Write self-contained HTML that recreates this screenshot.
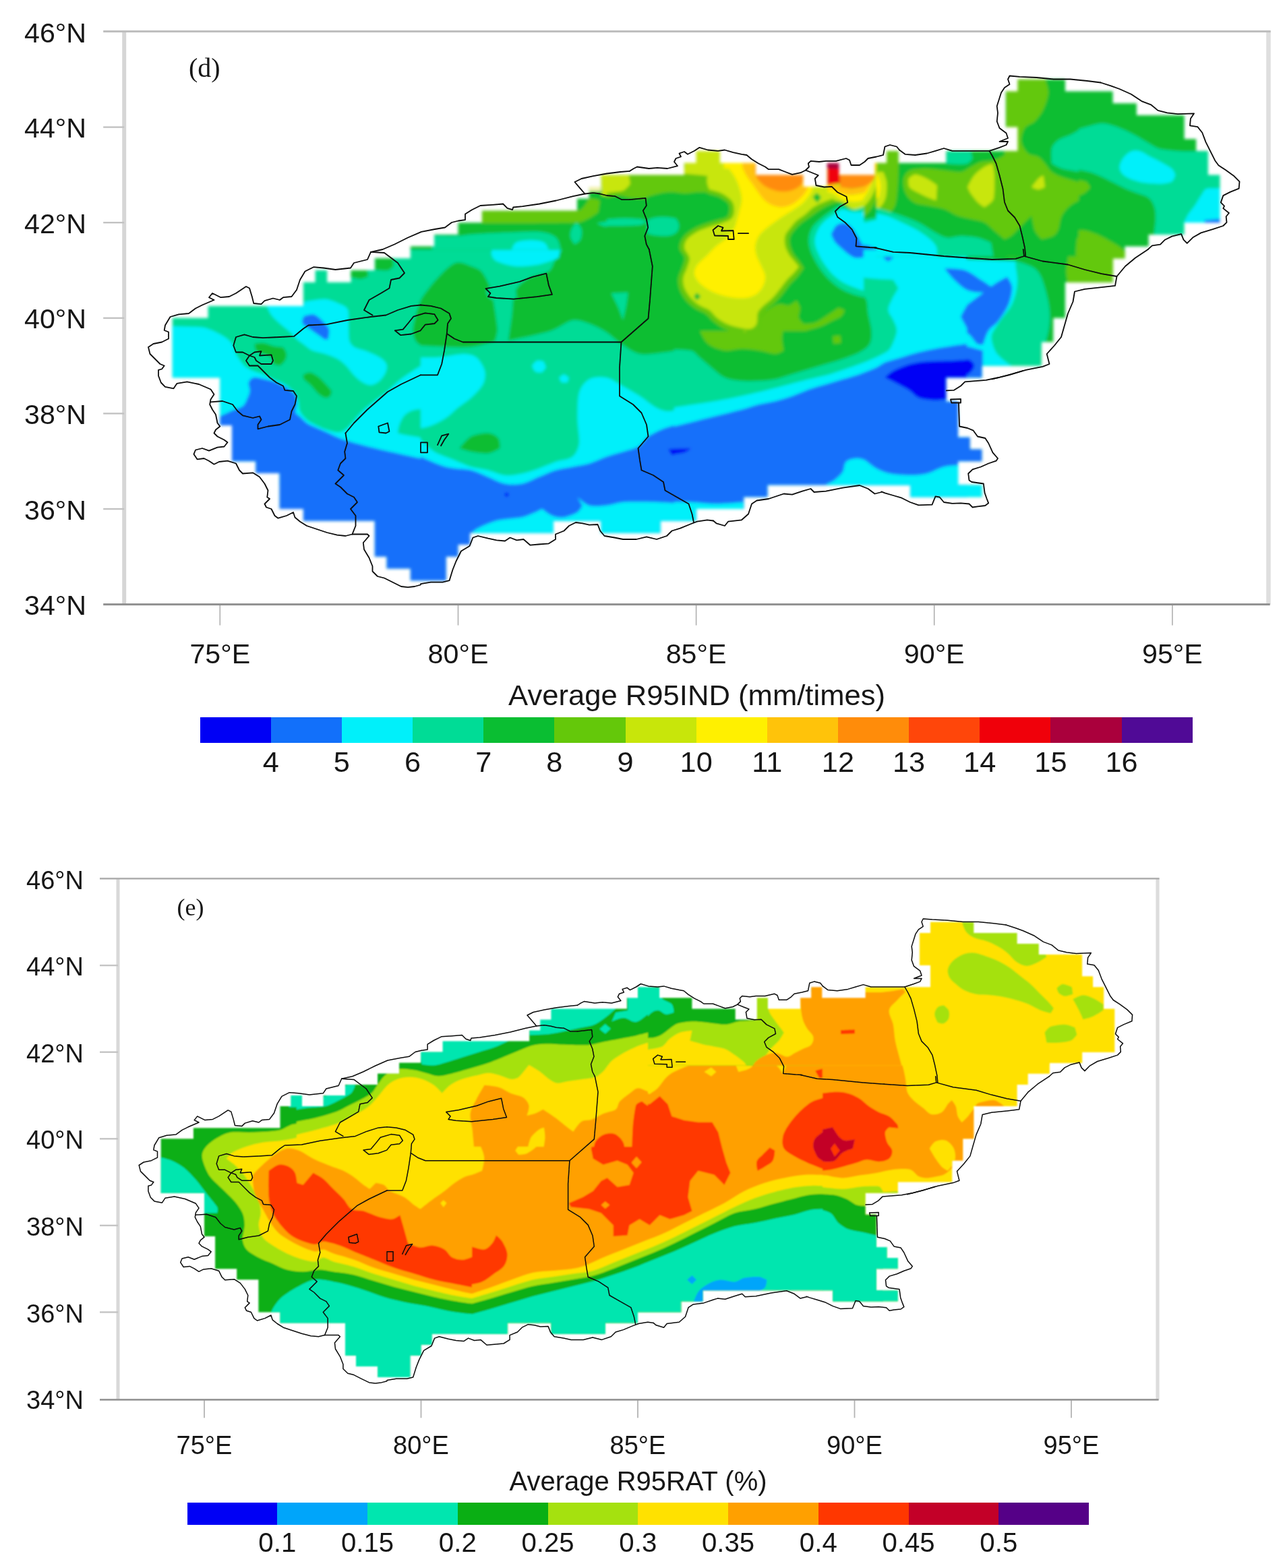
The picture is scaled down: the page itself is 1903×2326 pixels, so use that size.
<!DOCTYPE html>
<html lang="en"><head><meta charset="utf-8">
<title>Average R95IND and R95RAT</title>
<style>html,body{margin:0;padding:0;background:#fff}svg{display:block}</style>
</head><body>
<svg width="1903" height="2326" viewBox="0 0 1903 2326" font-family="'Liberation Sans', sans-serif">
<rect width="1903" height="2326" fill="#fff"/>
<g><defs>
<clipPath id="ma"><path clip-rule="evenodd" d="M555.8,383.3 555.8,401 520.5,401 520.5,418.7 485.2,418.7 485.2,401 467.6,401 467.6,418.7 449.9,418.7 449.9,454.1 308.6,454.1 308.6,471.8 255.7,471.8 255.7,560.3 326.3,560.3 326.3,631.1 344,631.1 344,684.2 379.3,684.2 379.3,701.9 414.6,701.9 414.6,755 449.9,755 449.9,772.7 555.8,772.7 555.8,825.8 573.5,825.8 573.5,843.5 608.8,843.5 608.8,861.2 626.5,861.2 661.8,861.2 661.8,825.8 679.5,825.8 679.5,808.1 697.1,808.1 697.1,790.4 820.7,790.4 820.7,772.7 891.3,772.7 891.3,790.4 979.6,790.4 979.6,772.7 1032.6,772.7 1032.6,755 1103.2,755 1103.2,737.3 1138.5,737.3 1138.5,719.6 1350.4,719.6 1350.4,737.3 1456.4,737.3 1456.4,719.6 1421.1,719.6 1421.1,684.2 1456.4,684.2 1456.4,666.5 1438.7,666.5 1438.7,648.8 1421.1,648.8 1421.1,595.7 1403.4,595.7 1403.4,560.3 1456.4,560.3 1456.4,542.6 1544.7,542.6 1544.7,507.2 1562.3,507.2 1562.3,471.8 1580,471.8 1580,418.7 1650.6,418.7 1650.6,383.3 1668.3,383.3 1668.3,365.6 1703.6,365.6 1703.6,347.9 1756.6,347.9 1756.6,330.2 1809.5,330.2 1809.5,259.4 1791.9,259.4 1791.9,224 1774.2,224 1774.2,206.3 1756.6,206.3 1756.6,170.9 1685.9,170.9 1685.9,153.2 1650.6,153.2 1650.6,135.5 1580,135.5 1580,117.8 1509.4,117.8 1509.4,135.5 1491.7,135.5 1491.7,188.6 1509.4,188.6 1509.4,224 1403.4,224 1403.4,241.7 1332.8,241.7 1332.8,224 1315.1,224 1315.1,241.7 1297.5,241.7 1297.5,259.4 1244.5,259.4 1244.5,241.7 1226.8,241.7 1226.8,277.1 1191.5,277.1 1191.5,259.4 1120.9,259.4 1120.9,241.7 1067.9,241.7 1067.9,224 1032.6,224 1032.6,241.7 1014.9,241.7 1014.9,259.4 891.3,259.4 891.3,277.1 873.7,277.1 873.7,294.8 856,294.8 856,312.5 714.8,312.5 714.8,330.2 679.5,330.2 679.5,347.9 644.1,347.9 644.1,365.6 608.8,365.6 608.8,383.3 555.8,383.3Z"/></clipPath>
<clipPath id="ta0"><rect x="190" y="370" width="434.6" height="530.6"/></clipPath>
<clipPath id="ta1"><rect x="624" y="370" width="376.6" height="530.6"/></clipPath>
<clipPath id="ta2"><rect x="1000" y="370" width="434.6" height="530.6"/></clipPath>
<clipPath id="ta3"><rect x="1434" y="370" width="434.6" height="530.6"/></clipPath>
<clipPath id="ta4"><rect x="500" y="40" width="400.6" height="330.6"/></clipPath>
<clipPath id="ta5"><rect x="900" y="100" width="400.6" height="270.6"/></clipPath>
<clipPath id="ta6"><rect x="1300" y="80" width="300.6" height="300.6"/></clipPath>
<clipPath id="ta7"><rect x="1600" y="100" width="300.6" height="300.6"/></clipPath>
<clipPath id="ta8"><rect x="960" y="250" width="320.6" height="240.6"/></clipPath>
<filter id="bla" x="-2%" y="-2%" width="104%" height="104%"><feGaussianBlur stdDeviation="1.9"/></filter>
<filter id="boa" x="-2%" y="-2%" width="104%" height="104%"><feGaussianBlur stdDeviation="0.4"/></filter>
</defs>
<g filter="url(#bla)"><g clip-path="url(#ma)">
<g clip-path="url(#ta0)">
<rect x="189" y="369" width="436" height="532" fill="#00dc96"/>
<path fill="#00f0fa" d="M240,483.8C240,483.8 291.2,484.3 300,485.5C308.8,486.7 318.6,491.7 325,495C331.4,498.3 338.4,502.6 342.5,507.5C346.6,512.4 346.9,519.5 350,525C353.1,530.5 359.1,539.1 362.5,542.5C365.9,545.9 370.6,548 375,550C379.4,552 385.1,553 390,555C394.9,557 399.9,560.2 405,562.5C410.1,564.8 417.1,566.7 422.5,570C427.9,573.3 434.7,579 437.5,582.5C440.3,586 441.3,590.7 442.5,595C443.7,599.3 442.9,605.4 445,610C447.1,614.6 451.4,619.3 455,622.5C458.6,625.7 463.2,627.8 467.5,630C471.8,632.2 479.3,635.7 485,637.5C490.7,639.3 497.9,641.6 502.5,641.2C507.1,640.9 511.5,638.1 515,635C518.5,631.9 530.9,615.9 540,607.5C549.1,599.1 566,587.3 573.2,581.2C580.5,575.2 587,568.2 594.5,562.5C602,556.8 618.7,546 624,542.5C629.3,539 640,532.5 640,532.5C640,532.5 640,720 640,720C640,720 290,720 290,720C290,720 247.7,656.5 240,620C232.3,583.5 240,483.8 240,483.8Z"/>
<path fill="#1270fa" d="M315,620C315,620 324.3,617.9 328.8,616.2C333.2,614.6 340,610.9 345,608.8C350,606.6 356.9,604.9 360,602.5C363.1,600.1 364.6,596.1 366.2,592.5C367.9,588.9 370.1,584.2 370.5,580C370.9,575.8 367.8,570.9 368.8,567.5C369.7,564.1 372.8,560.9 376.2,560C379.7,559.1 385.5,561.1 390,562C394.5,562.9 401.5,564.2 407,566.2C412.5,568.3 420.1,571.9 425,575C429.9,578.1 435.9,582.3 438.2,586.2C440.6,590.2 440,596.2 440,600C440,603.8 437.5,608.4 438.2,611.2C439,614.1 442.3,615.5 444.5,617.5C446.7,619.5 452.2,625.9 457,628.8C461.8,631.6 473.6,636.3 482,640C490.4,643.7 500.8,649.2 510.8,652.5C520.7,655.8 541.5,661.2 557,665C572.5,668.8 618.7,678.8 624,680C629.3,681.2 640,683.8 640,683.8C640,683.8 640,920 640,920C640,920 315,920 315,920C315,920 315,620 315,620Z"/>
<path fill="#00f0fa" d="M395,452.5C395,452.5 451.2,452.5 451.2,452.5C451.2,452.5 451.2,447.5 451.2,447.5C451.2,447.5 475,443.4 482,443.8C489,444.1 497,447.8 502,450C507,452.2 513.5,453.8 515.8,458.8C518,463.7 516.6,475 517,482.5C517.4,490 517.2,501 518.2,505C519.3,509 522.2,512.8 525.8,515C529.3,517.2 538.4,518.8 544.5,521.2C550.6,523.7 559.3,527.4 563.2,530C567.2,532.6 571.7,536.1 573.2,540C574.8,543.9 573.6,548.6 572,552.5C570.4,556.4 566.7,561.9 563.2,565C559.8,568.1 555.1,570.8 550.8,571.2C546.4,571.7 542.1,569.6 538.2,567.5C534.4,565.4 529.5,561.3 525.8,557.5C522,553.7 517,546.3 513.2,542.5C509.5,538.7 505.4,535.1 500.8,532.5C496.1,529.9 488.1,527 482,525C475.9,523 467.9,522 463.2,520C458.6,518 454.1,513.7 450.8,511.2C447.4,508.8 443.8,506.5 440.8,503.8C437.7,501 433.8,496 430,492.5C426.2,489 419.4,484 415,480C410.6,476 405.8,472 402.5,467.5C399.2,463 395,452.5 395,452.5Z"/>
<path fill="#1270fa" d="M448.2,476.2C448.4,474.5 450.8,468.8 450.8,468.8C450.8,468.8 461.2,465.9 464.5,466.2C467.8,466.6 470.6,469.2 473.2,471.2C475.9,473.3 479.7,477.3 482,480C484.3,482.7 487.5,485.3 488.2,488.8C489,492.2 487,502.5 487,502.5C487,502.5 483.6,504.4 482,503.8C480.4,503.1 473.7,497.9 469.5,495C465.3,492.1 459.5,488 457,486.2C454.5,484.5 450.6,482.5 449.5,481.2C448.4,480 448.1,478 448.2,476.2Z"/>
<path fill="#0abe32" d="M377.5,510C377.5,510 385.8,508.2 390,508.8C394.2,509.3 403.4,512.9 407.5,513.8C411.6,514.6 420,515 420,515C420,515 424.6,521.6 425,525C425.4,528.4 424.2,532 422.5,535C420.8,538 415,542.5 415,542.5C415,542.5 405,540 405,540C405,540 404.9,532.4 402.5,530C400.1,527.6 393.4,526.5 390,525C386.6,523.5 382.2,522.6 380,520C377.8,517.4 377.5,510 377.5,510Z"/>
<path fill="#0abe32" d="M449.5,556.2C449.5,556.2 456,552.1 459.5,552.5C463,552.9 468.3,556 472,558.8C475.7,561.5 481.9,568.5 484.5,571.2C487.1,574 492,580 492,580C492,580 491.4,585.6 489.5,587.5C487.6,589.4 484.6,590.6 482,590C479.4,589.4 474.9,586.4 472,583.8C469.1,581.1 463.9,574.4 460.8,571.2C457.6,568.1 452,564.2 450.8,562.5C449.5,560.8 449.5,556.2 449.5,556.2Z"/>
<path fill="#0abe32" d="M556.2,380C556.2,380 582.5,382.5 582.5,382.5C582.5,382.5 583.8,395 583.8,395C583.8,395 578.5,400.6 575,401.2C571.5,401.9 556.2,400 556.2,400C556.2,400 556.2,380 556.2,380Z"/>
<path fill="#0abe32" d="M520,400C520,400 545,401.2 545,401.2C545,401.2 546.2,410 546.2,410C546.2,410 538.9,413.6 535,413.8C531.1,413.9 520,411.2 520,411.2C520,411.2 520,400 520,400Z"/>
<path fill="#0abe32" d="M635,420C635,420 627.1,436.8 624,445C620.9,453.2 617.9,463.4 616.2,470C614.6,476.6 612.5,484.8 612.5,490C612.5,495.2 614.6,501.9 616.2,505C617.9,508.1 620.8,510.5 624,512C627.2,513.5 635,513.8 635,513.8C635,513.8 635,420 635,420Z"/>
<path fill="#00dc96" d="M630,606.2C630,606.2 617.1,607.2 612.5,608.8C607.9,610.3 603.3,612.7 600,616.2C596.7,619.8 594,626 592.5,630C591,634 590,642.5 590,642.5C590,642.5 596.6,644.3 600,645C603.4,645.7 610,646.7 615,647.5C620,648.3 630,650 630,650C630,650 630,606.2 630,606.2Z"/>
</g>
<g clip-path="url(#ta1)">
<rect x="623" y="369" width="378" height="532" fill="#00dc96"/>
<path fill="#0abe32" d="M609,506.2C609.4,504.6 617,478.3 619,470C621,461.7 620.1,452.5 624,445C627.9,437.5 641.1,421 649,412.5C656.9,404 667.9,392.6 675.5,390C683.1,387.4 693.2,392.9 699,395C704.8,397.1 711.4,399.2 715.2,404C719.1,408.8 726.2,422.3 729,432.5C731.8,442.7 737.3,480.5 737.8,487C738.2,493.5 734,506.2 734,506.2C734,506.2 710.9,513.1 699,514.5C687.1,515.9 674,514.8 661.5,514.5C649,514.2 629,513.1 624,512.8C619,512.4 609,511.2 609,511.2C609,511.2 608.6,507.9 609,506.2Z"/>
<path fill="#0abe32" d="M841.5,360C841.5,360 827.6,379.4 824,385C820.4,390.6 819.5,398.7 814,402.5C808.5,406.3 792.1,407.6 784,412.5C775.9,417.4 767.8,423.9 764,432.5C760.2,441.1 760.6,458.3 759,470C757.4,481.7 754,505 754,505C754,505 770.7,501.9 779,500C787.3,498.1 808.5,493.8 819,490C829.5,486.2 840.6,476.5 849,475C857.4,473.5 866,477.2 874,480C882,482.8 891.1,487.5 899,492.5C906.9,497.5 913.5,504.8 921.5,510C929.5,515.2 938.7,523 949,525C959.3,527 974,523.7 986.5,522.5C999,521.3 1014.7,516.4 1024,517.5C1033.3,518.6 1040.8,525.5 1049,530C1057.2,534.5 1074,545 1074,545C1074,545 1074,360 1074,360C1074,360 841.5,360 841.5,360Z"/>
<path fill="#00dc96" d="M906.5,435C906.5,435 931.5,433.8 931.5,433.8C931.5,433.8 930.1,446.3 929,452.5C927.9,458.7 924,475 924,475C924,475 919.4,461.5 916.5,455C913.6,448.5 906.5,435 906.5,435Z"/>
<path fill="#00dc96" d="M721.5,428.8C721.5,428.8 764,420 764,420C764,420 766.5,442.5 766.5,442.5C766.5,442.5 735.3,445.4 731.5,445C727.7,444.6 724.3,440 722.8,437.5C721.2,435 721.5,428.8 721.5,428.8Z"/>
<path fill="#00f0fa" d="M731.5,362.5C731.5,362.5 831.5,362.5 831.5,362.5C831.5,362.5 829,382.5 829,382.5C829,382.5 809.4,390.5 799,392.5C788.6,394.5 773.5,395.8 764,395C754.5,394.2 740.2,389.4 736.5,387.5C732.8,385.6 729.8,381.6 729,377.5C728.2,373.4 731.5,362.5 731.5,362.5Z"/>
<path fill="#00f0fa" d="M609,530C609,530 636.4,530.8 649,530C661.6,529.2 679.6,525 686.5,525C693.4,525 701.1,525.8 706.5,530C711.9,534.2 717.4,543.5 719,550C720.6,556.5 719.5,564 716.5,570C713.5,576 705.1,584.3 699,590C692.9,595.7 685,600.2 679,605C673,609.8 668,615.8 661.5,620C655,624.2 645.3,629.6 636.5,632.5C627.7,635.4 609,637.5 609,637.5C609,637.5 609,530 609,530Z"/>
<path fill="#00f0fa" d="M609,647.5C609,647.5 619.6,649.6 624,652.5C628.4,655.4 636.4,665.4 644,670C651.6,674.6 665.7,679.1 674,682.5C682.3,685.9 690.9,690.1 699,692.5C707.1,694.9 715.8,695.4 724,697.5C732.2,699.6 740.7,704.2 749,705C757.3,705.8 765.8,704.1 774,702.5C782.2,700.9 790.8,697.9 799,695C807.2,692.1 815.8,687.9 824,685C832.2,682.1 843.1,682.1 849,677.5C854.9,672.9 858,664.9 859,657.5C860,650.1 856.5,632.5 856.5,620C856.5,607.5 856.6,590.5 859,582.5C861.4,574.5 866.7,566.6 874,562.5C881.3,558.4 891.6,558.8 899,560C906.4,561.2 912.5,566.4 919,570C925.5,573.6 940.4,582 949,587.5C957.6,593 967.9,601.9 974,605C980.1,608.1 987.2,610.7 994,610C1000.8,609.3 1014,603.4 1024,600C1034,596.6 1074,582.5 1074,582.5C1074,582.5 1074,745 1074,745C1074,745 609,745 609,745C609,745 609,647.5 609,647.5Z"/>
<path fill="#00f0fa" d="M789,542.5C789,542.5 793.3,536.1 796.5,535C799.7,533.9 806.5,536.2 806.5,536.2C806.5,536.2 810.2,545 810.2,545C810.2,545 804,552.5 804,552.5C804,552.5 796.8,553.1 794,551.2C791.2,549.4 789,542.5 789,542.5Z"/>
<path fill="#00f0fa" d="M829,560C829,560 836.5,555 836.5,555C836.5,555 844,560 844,560C844,560 841.5,567.5 841.5,567.5C841.5,567.5 832.8,567.5 832.8,567.5C832.8,567.5 829,560 829,560Z"/>
<path fill="#0abe32" d="M681.5,665C681.5,665 691.7,651.4 699,647.5C706.3,643.6 718.4,642.2 724,642.5C729.6,642.8 735.9,646 739,650C742.1,654 741.5,665 741.5,665C741.5,665 730.3,671.8 724,672.5C717.7,673.2 705,671.1 699,670C693,668.9 681.5,665 681.5,665Z"/>
<path fill="#1270fa" d="M609,672.5C609,672.5 619.1,675.6 624,677.5C628.9,679.4 649.3,689.3 661.5,692.5C673.7,695.7 690.3,695.4 699,697.5C707.7,699.6 715.7,704.2 724,707.5C732.3,710.8 740.8,715.9 749,717.5C757.2,719.1 765.8,719.1 774,717.5C782.2,715.9 790.7,710.8 799,707.5C807.3,704.2 815.9,699.9 824,697.5C832.1,695.1 840.7,694.2 849,692.5C857.3,690.8 865.9,689.9 874,687.5C882.1,685.1 890.8,680.4 899,677.5C907.2,674.6 916.5,672.4 924,670C931.5,667.6 940.4,666.1 946.5,662.5C952.6,658.9 955.7,651.5 961.5,647.5C967.3,643.5 977.7,638.2 986.5,635C995.3,631.8 1011.4,628.1 1024,625C1036.6,621.9 1074,613.8 1074,613.8C1074,613.8 1074,920 1074,920C1074,920 609,920 609,920C609,920 609,672.5 609,672.5Z"/>
<path fill="#00f0fa" d="M699,820C699,820 696.8,799.3 697.8,795C698.7,790.7 702.7,787.2 706.5,785C710.3,782.8 726,775.2 736.5,772.5C747,769.8 767,769 774,767.5C781,766 790.6,761.4 794,760C797.4,758.6 804,755 804,755C804,755 813.5,762.9 819,765C824.5,767.1 830.7,768.3 836.5,767.5C842.3,766.7 853,762.2 856.5,760C860,757.8 864,750 864,750C864,750 856.5,737.5 856.5,737.5C856.5,737.5 867.1,748 874,750C880.9,752 890.7,750.8 899,750C907.3,749.2 915.5,745.6 924,745C932.5,744.4 961.5,744.6 974,745C986.5,745.4 1005.3,746.4 1011.5,747.5C1017.7,748.6 1022.7,754.2 1029,755C1035.3,755.8 1074,755 1074,755C1074,755 1074,820 1074,820C1074,820 699,820 699,820Z"/>
<path fill="#0000f5" d="M991.5,666.2C991.5,666.2 1024,665 1024,665C1024,665 1017.9,671.1 1014,672.5C1010.1,673.9 996.5,675 996.5,675C996.5,675 991.5,666.2 991.5,666.2Z"/>
<path fill="#0000f5" d="M749,731.2C749,731.2 754,731.2 754,731.2C754,731.2 754,736.2 754,736.2C754,736.2 749,736.2 749,736.2C749,736.2 749,731.2 749,731.2Z"/>
</g>
<g clip-path="url(#ta2)">
<rect x="999" y="369" width="436" height="532" fill="#00dc96"/>
<path fill="#00f0fa" d="M1220,360C1220,360 1220.3,377.9 1225,385C1229.7,392.1 1240.2,400.7 1250,405C1259.8,409.3 1275.1,410.8 1287.5,412.5C1299.9,414.2 1325,415 1325,415C1325,415 1332.5,427.5 1332.5,427.5C1332.5,427.5 1324.7,440.2 1322.5,445C1320.3,449.8 1317.1,454.7 1317.5,460C1317.9,465.3 1323,470.1 1325,475C1327,479.9 1330,484.7 1330,490C1330,495.3 1327.1,502.7 1325,507.5C1322.9,512.3 1320.9,517.6 1316.8,520.8C1312.6,523.9 1297.9,530.9 1288,535C1278.1,539.1 1256.5,546.5 1250,548.8C1243.5,551 1237.1,553.4 1230.5,555.2C1223.9,557.1 1209.1,560.3 1200,562.5C1190.9,564.7 1180.3,567.5 1172.8,569.5C1165.2,571.5 1157.6,573.6 1150,575.5C1142.4,577.4 1124.5,581.9 1115.2,584C1106,586.1 1096.8,588.2 1087.5,590C1078.2,591.8 1067.5,593.8 1057.5,595.5C1047.5,597.2 1033.3,599.2 1025,600.5C1016.7,601.8 1005,603.5 1000,604.2C995,605 985,606.2 985,606.2C985,606.2 985,795 985,795C985,795 1450,795 1450,795C1450,795 1450,360 1450,360C1450,360 1220,360 1220,360Z"/>
<path fill="#0abe32" d="M985,517.5C985,517.5 1019.8,518.8 1025,520C1030.2,521.2 1033.4,526.6 1037.5,530C1041.6,533.4 1049,540.2 1055,545C1061,549.8 1067.4,556.6 1075,560C1082.6,563.4 1091.7,564.2 1100,565C1108.3,565.8 1116.7,565.4 1125,565C1133.3,564.6 1141.8,564.1 1150,562.5C1158.2,560.9 1166.7,557.5 1175,555C1183.3,552.5 1191.7,550 1200,547.5C1208.3,545 1216.7,542.5 1225,540C1233.3,537.5 1241.8,535.4 1250,532.5C1258.2,529.6 1269.3,525.7 1275,522.5C1280.7,519.3 1286.9,515.7 1290,510C1293.1,504.3 1292.9,496.7 1292.5,490C1292.1,483.3 1288.6,471.6 1287.5,465C1286.4,458.4 1286.8,449.4 1285,445C1283.2,440.6 1279.3,436.9 1275,435C1270.7,433.1 1254.3,431.9 1250,430C1245.7,428.1 1243.5,423.2 1240,420C1236.5,416.8 1229.2,412.5 1225,407.5C1220.8,402.5 1216.7,396.5 1215,390C1213.3,383.5 1212.5,360 1212.5,360C1212.5,360 985,360 985,360C985,360 985,517.5 985,517.5Z"/>
<path fill="#64c80a" d="M1010,360C1010,360 1007.5,386.6 1007.5,395C1007.5,403.4 1008.9,413.2 1010,420C1011.1,426.8 1012.8,433.5 1015,440C1017.2,446.5 1021.3,456.8 1025,465C1028.7,473.2 1033.7,483.1 1037.5,490C1041.3,496.9 1043.9,505.1 1050,510C1056.1,514.9 1066.7,518.8 1075,520C1083.3,521.2 1091.6,517.5 1100,517.5C1108.4,517.5 1116.7,518.8 1125,520C1133.3,521.2 1145.5,525 1150,525C1154.5,525 1162.5,520 1162.5,520C1162.5,520 1159.6,506.1 1160,500C1160.4,493.9 1162.9,486.1 1165,482.5C1167.1,478.9 1170.9,475.9 1175,475C1179.1,474.1 1191.7,474.6 1200,475C1208.3,475.4 1219.5,478.2 1225,477.5C1230.5,476.8 1236.7,471.7 1240,470C1243.3,468.3 1250,465 1250,465C1250,465 1247.5,455 1247.5,455C1247.5,455 1239.2,458.4 1235,460C1230.8,461.6 1221.7,466.7 1215,467.5C1208.3,468.3 1199.4,466.8 1195,465C1190.6,463.2 1186.8,459.4 1185,455C1183.2,450.6 1183.6,444.8 1185,440C1186.4,435.2 1192.7,425.6 1195,420C1197.3,414.4 1200.8,408.5 1200,402.5C1199.2,396.5 1192.5,389.5 1190,382.5C1187.5,375.5 1185,360 1185,360C1185,360 1010,360 1010,360Z"/>
<path fill="#64c80a" d="M1235,498.8C1235,498.8 1246.2,497.5 1246.2,497.5C1246.2,497.5 1247.5,508.8 1247.5,508.8C1247.5,508.8 1236.2,510 1236.2,510C1236.2,510 1235,498.8 1235,498.8Z"/>
<path fill="#c8e60a" d="M1012.5,360C1012.5,360 1010,384.1 1010,395C1010,405.9 1010.4,420.6 1012.5,427.5C1014.6,434.4 1021.2,440.5 1025,445C1028.8,449.5 1032.6,454.2 1037.5,457.5C1042.4,460.8 1054.2,465.8 1062.5,470C1070.8,474.2 1081.6,479.4 1087.5,482.5C1093.4,485.6 1105,492.5 1105,492.5C1105,492.5 1116.8,485.7 1120,480C1123.2,474.3 1121.8,463.2 1125,457.5C1128.2,451.8 1135.1,449.2 1140,445C1144.9,440.8 1154.6,432.9 1160,427.5C1165.4,422.1 1171.6,414.1 1175,410C1178.4,405.9 1185,397.5 1185,397.5C1185,397.5 1177.2,388.1 1175,382.5C1172.8,376.9 1170,360 1170,360C1170,360 1012.5,360 1012.5,360Z"/>
<path fill="#fff000" d="M1032.5,360C1032.5,360 1029.3,383.7 1030,390C1030.7,396.3 1033.2,402.8 1037.5,407.5C1041.8,412.2 1054.4,419.7 1062.5,425C1070.6,430.3 1079.4,438 1087.5,440C1095.6,442 1105.7,439.9 1112.5,437.5C1119.3,435.1 1126.7,429.9 1130,425C1133.3,420.1 1133.3,413.3 1132.5,407.5C1131.7,401.7 1126.6,396.1 1125,390C1123.4,383.9 1120,360 1120,360C1120,360 1032.5,360 1032.5,360Z"/>
<path fill="#64c80a" d="M1030,437.5C1030,437.5 1036.2,433.8 1036.2,433.8C1036.2,433.8 1041.2,440 1041.2,440C1041.2,440 1035,445 1035,445C1035,445 1030,437.5 1030,437.5Z"/>
<path fill="#1270fa" d="M985,635C985,635 995.1,633.6 1000,632.5C1004.9,631.4 1033.3,624.2 1050,620C1066.7,615.8 1091.6,609.7 1100,607.5C1108.4,605.3 1116.8,602.1 1125,600C1133.2,597.9 1141.8,597.1 1150,595C1158.2,592.9 1166.8,590.4 1175,587.5C1183.2,584.6 1191.8,580.4 1200,577.5C1208.2,574.6 1216.7,572.5 1225,570C1233.3,567.5 1241.7,565 1250,562.5C1258.3,560 1266.8,557.9 1275,555C1283.2,552.1 1295.6,547.1 1300,545C1304.4,542.9 1308,539.3 1312.5,537.5C1317,535.7 1329.2,532.5 1337.5,530C1345.8,527.5 1354,524.5 1362.5,522.5C1371,520.5 1387.4,517.2 1400,515C1412.6,512.8 1450,507.5 1450,507.5C1450,507.5 1450,920 1450,920C1450,920 985,920 985,920C985,920 985,635 985,635Z"/>
<path fill="#00f0fa" d="M985,745C985,745 1012.5,744.6 1025,745C1037.5,745.4 1050,747.5 1062.5,747.5C1075,747.5 1102.5,745 1102.5,745C1102.5,745 1102.5,795 1102.5,795C1102.5,795 985,795 985,795C985,795 985,745 985,745Z"/>
<path fill="#00f0fa" d="M1220,725C1222.1,718.1 1233,716.3 1237.5,712.5C1242,708.7 1247.2,704.4 1250,700C1252.8,695.6 1251.3,688.7 1255,685C1258.7,681.3 1265.8,680.4 1270,680C1274.2,679.6 1278.7,680.6 1282.5,682.5C1286.3,684.4 1293.7,691.6 1300,695C1306.3,698.4 1313,701.1 1320,702.5C1327,703.9 1341.6,705 1350,705C1358.4,705 1366.9,704.5 1375,702.5C1383.1,700.5 1391.9,694.5 1400,692.5C1408.1,690.5 1416.7,690.4 1425,690C1433.3,689.6 1450,690 1450,690C1450,690 1450,770 1450,770C1450,770 1220,770 1220,770C1220,770 1217.9,731.9 1220,725Z"/>
<path fill="#0000f5" d="M1312.5,560C1312.5,560 1320.3,552.5 1325,550C1329.7,547.5 1341.9,542.2 1350,540C1358.1,537.8 1366.6,536.9 1375,536.2C1383.4,535.6 1400,535.6 1412.5,535C1425,534.4 1450,532.5 1450,532.5C1450,532.5 1450,595 1450,595C1450,595 1411.7,592.6 1405,592.5C1398.3,592.4 1391.7,594.1 1385,593.8C1378.3,593.4 1367.5,592 1362.5,590C1357.5,588 1354.4,583 1350,580C1345.6,577 1338.4,573.2 1332.5,570C1326.6,566.8 1312.5,560 1312.5,560Z"/>
<path fill="#0000f5" d="M990,666.2C990,666.2 1025,665 1025,665C1025,665 1018.8,670.2 1015,671.2C1011.2,672.3 990,675 990,675C990,675 990,666.2 990,666.2Z"/>
<path fill="#1270fa" d="M1401,398.2C1401,398.2 1421.7,397.8 1431,400.8C1440.3,403.7 1450.9,412.6 1456,415.8C1461.1,418.9 1471,425.8 1471,425.8C1471,425.8 1465.2,432.9 1461,433.5C1456.8,434.1 1443.8,434.1 1436,431C1428.2,427.9 1421.6,421 1416,415.8C1410.4,410.5 1401,398.2 1401,398.2Z"/>
<path fill="#1270fa" d="M1425,470C1425,470 1431.1,456.4 1436,451C1440.9,445.6 1449.4,441 1456,436C1462.6,431 1470.4,424.5 1476,420.8C1481.6,417 1493.8,410.8 1493.8,410.8C1493.8,410.8 1500.9,420.2 1501.2,425.8C1501.6,431.3 1499.4,443 1496.2,451C1493.1,459 1485.6,470.3 1481.2,476C1476.9,481.7 1469.9,485 1466,491C1462.1,497 1458.5,511 1458.5,511C1458.5,511 1449.3,509.1 1446,506C1442.7,502.9 1439.2,495.4 1436,490C1432.8,484.6 1425,470 1425,470Z"/>
<path fill="#1270fa" d="M1310,382.5C1310,382.5 1317.5,377.5 1317.5,377.5C1317.5,377.5 1325,382.5 1325,382.5C1325,382.5 1317.5,388 1317.5,388C1317.5,388 1310,382.5 1310,382.5Z"/>
</g>
<g clip-path="url(#ta3)">
<rect x="1433" y="369" width="436" height="532" fill="#0abe32"/>
<path fill="#64c80a" d="M1584,360C1584,360 1584.3,379.1 1584,385C1583.7,390.9 1581.5,396.6 1581.5,402.5C1581.5,408.4 1584,420 1584,420C1584,420 1646.4,428.2 1659,425C1671.6,421.8 1679.8,405.9 1684,395C1688.2,384.1 1684,360 1684,360C1684,360 1584,360 1584,360Z"/>
<path fill="#64c80a" d="M1469,360C1469,360 1471.5,377.5 1471.5,377.5C1471.5,377.5 1489.8,380.9 1496.5,381.2C1503.2,381.6 1516.5,380 1516.5,380C1516.5,380 1517.8,360 1517.8,360C1517.8,360 1469,360 1469,360Z"/>
<path fill="#00dc96" d="M1419,385C1419,385 1459.8,385.9 1471.5,386.2C1483.2,386.6 1503.1,387.2 1506.5,387.5C1509.9,387.8 1513.3,388.8 1516.5,390C1519.7,391.2 1529.7,394.4 1534,397.5C1538.3,400.6 1541.6,405.2 1544,410C1546.4,414.8 1549.5,424.9 1551.5,432.5C1553.5,440.1 1555.7,449.2 1556.5,457.5C1557.3,465.8 1557.3,474.9 1556.5,482.5C1555.7,490.1 1553,501.1 1551.5,505C1550,508.9 1544.5,510.9 1544,515C1543.5,519.1 1544,570 1544,570C1544,570 1419,570 1419,570C1419,570 1419,385 1419,385Z"/>
<path fill="#00f0fa" d="M1419,385C1419,385 1459.8,385.9 1471.5,386.2C1483.2,386.6 1506.5,387.5 1506.5,387.5C1506.5,387.5 1506.3,392.5 1506.5,395C1506.7,397.5 1509,408.3 1509,415C1509,421.7 1508.1,428.5 1506.5,435C1504.9,441.5 1502.5,448.8 1499,455C1495.5,461.2 1488.5,468.5 1484,475C1479.5,481.5 1473,491.1 1471.5,495C1470,498.9 1470.5,503.5 1471.5,507.5C1472.5,511.5 1475.1,520 1479,525C1482.9,530 1492.8,537.5 1496.5,540C1500.2,542.5 1509,545 1509,545C1509,545 1509,570 1509,570C1509,570 1419,570 1419,570C1419,570 1419,385 1419,385Z"/>
<path fill="#1270fa" d="M1401,398.2C1401,398.2 1421.7,397.8 1431,400.8C1440.3,403.7 1450.9,412.6 1456,415.8C1461.1,418.9 1471,425.8 1471,425.8C1471,425.8 1465.2,432.9 1461,433.5C1456.8,434.1 1443.8,434.1 1436,431C1428.2,427.9 1421.6,421 1416,415.8C1410.4,410.5 1401,398.2 1401,398.2Z"/>
<path fill="#1270fa" d="M1419,465C1421.9,458.3 1430.2,455.5 1436,451C1441.8,446.5 1449.4,441 1456,436C1462.6,431 1470.4,424.5 1476,420.8C1481.6,417 1493.8,410.8 1493.8,410.8C1493.8,410.8 1500.9,420.2 1501.2,425.8C1501.6,431.3 1499.4,443 1496.2,451C1493.1,459 1485.6,470.3 1481.2,476C1476.9,481.7 1469.9,485 1466,491C1462.1,497 1458.5,511 1458.5,511C1458.5,511 1451.6,511.8 1449,510C1446.4,508.2 1440.9,498.3 1436,495C1431.1,491.7 1419,490 1419,490C1419,490 1416.1,471.7 1419,465Z"/>
<path fill="#1270fa" d="M1419,512.5C1419,512.5 1429.1,512.8 1434,513.8C1438.9,514.7 1457.8,520 1457.8,520C1457.8,520 1457.8,570 1457.8,570C1457.8,570 1419,570 1419,570C1419,570 1419,512.5 1419,512.5Z"/>
<path fill="#0000f5" d="M1419,530C1419,530 1431.3,531.8 1434,532.5C1436.7,533.2 1439.7,534.6 1441.5,536.2C1443.3,537.9 1445,540.1 1445,542.5C1445,544.9 1443.2,547.8 1441.5,550C1439.8,552.2 1437.1,555.2 1434,556.2C1430.9,557.3 1419,557.5 1419,557.5C1419,557.5 1419,530 1419,530Z"/>
<path fill="#1270fa" d="M1419,645C1419,645 1464,645 1464,645C1464,645 1464,695 1464,695C1464,695 1419,695 1419,695C1419,695 1419,645 1419,645Z"/>
<path fill="#00f0fa" d="M1419,707.5C1419,707.5 1464,707.5 1464,707.5C1464,707.5 1464,745 1464,745C1464,745 1419,745 1419,745C1419,745 1419,707.5 1419,707.5Z"/>
</g>
<g clip-path="url(#ta4)">
<rect x="499" y="39" width="402" height="332" fill="#0abe32"/>
<path fill="#64c80a" d="M715,312.5C715,312.5 849.3,313.4 857.5,312.5C865.7,311.6 870.4,297.1 875,295C879.6,292.9 890,297.5 890,297.5C890,297.5 887.5,315 887.5,315C887.5,315 868.6,329 857.5,330C846.4,331 715,331.2 715,331.2C715,331.2 715,312.5 715,312.5Z"/>
<path fill="#64c80a" d="M890,255C890,255 940,255 940,255C940,255 940,297.5 940,297.5C940,297.5 926.6,298.3 920,297.5C913.4,296.7 900,292.5 900,292.5C900,292.5 890,255 890,255Z"/>
<path fill="#c8e60a" d="M891.2,255C891.2,255 940,255 940,255C940,255 940,287.5 940,287.5C940,287.5 926.7,289.6 920,290C913.3,290.4 892.5,290 892.5,290C892.5,290 891.2,255 891.2,255Z"/>
<path fill="#f3f2b0" d="M873.8,265 891.5,265 891.5,283.8 873.8,283.8Z"/>
<path fill="#00dc96" d="M640,375C640,375 643.8,350 643.8,350C643.8,350 673.3,350.3 680,350C686.7,349.7 693.3,348 700,347.5C706.7,347 733.3,345.6 750,345C766.7,344.4 791.2,342.9 800,343.8C808.8,344.6 819.3,347 825,352.5C830.7,358 832.5,375 832.5,375C832.5,375 640,375 640,375Z"/>
<path fill="#00f0fa" d="M757.5,375C757.5,375 760.3,363 765,360C769.7,357 780.7,356.2 787.5,356.2C794.3,356.2 802.9,356.9 807.5,360C812.1,363.1 815,375 815,375C815,375 757.5,375 757.5,375Z"/>
<path fill="#00dc96" d="M847.5,340C849,336.1 855,330 855,330C855,330 861.5,336 862.5,340C863.5,344 862.8,351.5 861.2,355C859.7,358.5 852.5,362.5 852.5,362.5C852.5,362.5 847.1,356.3 846.2,352.5C845.4,348.7 846,343.9 847.5,340Z"/>
<path fill="#00dc96" d="M885,331.2C885,331.2 901.7,327.9 910,327.5C918.3,327.1 935,328.8 935,328.8C935,328.8 935,335 935,335C935,335 905.3,336.6 900,336.2C894.7,335.9 885,331.2 885,331.2Z"/>
</g>
<g clip-path="url(#ta5)">
<rect x="899" y="99" width="402" height="272" fill="#0abe32"/>
<path fill="#64c80a" d="M890,220C890,220 1315,220 1315,220C1315,220 1313.6,241.6 1312.5,250C1311.4,258.4 1309.4,268.1 1307.5,275C1305.6,281.9 1302.8,288.9 1300,295C1297.2,301.1 1294.2,307.5 1290,312.5C1285.8,317.5 1279.6,323.1 1275,325C1270.4,326.9 1260,325 1260,325C1260,325 1250.5,295 1250.5,295C1250.5,295 1239.1,297.6 1233.8,300C1228.4,302.4 1222.4,306.5 1217,310.2C1211.6,314 1205.4,320.1 1200.2,323.5C1195.1,326.9 1189.1,328.8 1183.8,332C1178.4,335.2 1171.1,338.8 1167,343.5C1162.9,348.2 1158.8,354 1158.8,360.2C1158.8,366.5 1165.4,372.8 1167,377C1168.6,381.2 1170,390 1170,390C1170,390 1005,390 1005,390C1005,390 1004.8,383.3 1005,380C1005.2,376.7 1005.8,358.3 1007.5,352.5C1009.2,346.7 1013.1,341.5 1017.5,337.5C1021.9,333.5 1028.7,329.8 1035,327.5C1041.3,325.2 1048.3,324.2 1055,323.8C1061.7,323.3 1071.3,325.5 1075,325C1078.7,324.5 1085,320 1085,320C1085,320 1084.9,311 1082.5,307.5C1080.1,304 1074.8,299.7 1070,297.5C1065.2,295.3 1056.8,293.4 1050,292.5C1043.2,291.6 1033.3,292.1 1025,291.2C1016.7,290.4 1008.4,287.7 1000,287.5C991.6,287.3 980.1,289.2 975,290C969.9,290.8 965.1,293.2 960,293.8C954.9,294.3 945,294.4 937.5,293.8C930,293.1 922.6,289.4 915,290C907.4,290.6 890,297.5 890,297.5C890,297.5 890,220 890,220Z"/>
<path fill="#c8e60a" d="M890,260C890,260 932.5,260 932.5,260C932.5,260 935,272.5 935,272.5C935,272.5 929.2,280.4 925,282.5C920.8,284.6 915,284.3 910,285C905,285.7 890,287.5 890,287.5C890,287.5 890,260 890,260Z"/>
<path fill="#c8e60a" d="M1015.8,220C1015.8,220 1310,220 1310,220C1310,220 1307.8,241.5 1306.2,250C1304.7,258.5 1302,269 1300,275C1298,281 1295.8,287.1 1292.5,292.5C1289.2,297.9 1285.1,303.7 1280,307.5C1274.9,311.3 1262.5,315 1262.5,315C1262.5,315 1254,303.1 1252.5,300C1251,296.9 1250.5,290 1250.5,290C1250.5,290 1239,291.4 1233.8,293.8C1228.5,296.1 1222.5,301.1 1217,305C1211.5,308.9 1205.5,314.1 1200.2,317.5C1195,320.9 1189.1,323 1183.8,326.2C1178.4,329.5 1172.1,333.2 1167,337.5C1161.9,341.8 1155.2,347.3 1152.5,352.5C1149.8,357.7 1149.6,364.1 1150,370C1150.4,375.9 1155,390 1155,390C1155,390 1020,390 1020,390C1020,390 1017.1,375.3 1017.5,370C1017.9,364.7 1019.7,359.4 1022.5,355C1025.3,350.6 1030,345.6 1035,342.5C1040,339.4 1048.5,336.6 1055,335C1061.5,333.4 1068.9,334.1 1075,332.5C1081.1,330.9 1092.5,325 1092.5,325C1092.5,325 1095.4,315.1 1095,310C1094.6,304.9 1093.3,294.3 1090,290C1086.7,285.7 1079.9,285.2 1075,283.8C1070.1,282.3 1063.7,282.5 1060,281.2C1056.3,280 1050,275 1050,275C1050,275 1050,260 1050,260C1050,260 1015.8,260 1015.8,260C1015.8,260 1015.8,220 1015.8,220Z"/>
<path fill="#fff000" d="M1072.5,220C1072.5,220 1210,220 1210,220C1210,220 1210.6,270.9 1210,275C1209.4,279.1 1202.9,279.3 1200.2,282.5C1197.6,285.7 1195.4,292.5 1192,296.8C1188.6,301 1180.5,308.7 1175.2,313.5C1170,318.3 1163.5,322.8 1158.8,327C1154,331.2 1149.5,335.6 1145,340C1140.5,344.4 1133.8,350.4 1130,355C1126.2,359.6 1122,364.3 1120,370C1118,375.7 1117.5,390 1117.5,390C1117.5,390 1032.5,390 1032.5,390C1032.5,390 1032.5,375.4 1035,370C1037.5,364.6 1043,361.3 1047.5,357.5C1052,353.7 1058.9,348.7 1065,345C1071.1,341.3 1080.4,338.8 1085,335C1089.6,331.2 1093.3,325.8 1095,320C1096.7,314.2 1096.6,306.5 1095,300C1093.4,293.5 1088.3,286.7 1085,280C1081.7,273.3 1076.5,267.3 1075,260C1073.5,252.7 1072.5,220 1072.5,220Z"/>
<path fill="#ffc30a" d="M1100,220C1100,220 1195,220 1195,220C1195,220 1195.1,276.5 1195,278.8C1194.9,281 1193.5,283 1192.5,285C1191.5,287 1188.5,295.7 1185,300C1181.5,304.3 1176,309.9 1170,312.5C1164,315.1 1155.5,315.8 1150,315C1144.5,314.2 1139,311.5 1135,307.5C1131,303.5 1128.7,295.4 1125,290C1121.3,284.6 1116.1,279.8 1112.5,275C1108.9,270.2 1103.8,265.9 1102.5,260C1101.2,254.1 1100,220 1100,220Z"/>
<path fill="#ff8c0a" d="M1120,220C1120,220 1193.8,220 1193.8,220C1193.8,220 1194.1,267.3 1193.8,270C1193.4,272.7 1189.9,273.8 1187.5,275C1185.1,276.2 1179.3,278.6 1175,279.5C1170.7,280.4 1161,282.2 1155,282C1149,281.8 1141.6,279.5 1137.5,278C1133.4,276.5 1128.9,273.6 1126.2,271.2C1123.6,268.9 1120.4,266.1 1120,262.5C1119.6,258.9 1120,220 1120,220Z"/>
<path fill="#fff000" d="M1225,220C1225,220 1303.8,220 1303.8,220C1303.8,220 1301.4,243.2 1300,250C1298.6,256.8 1295.9,264.4 1293.8,270C1291.6,275.6 1289.4,281.2 1286.2,286.2C1283.1,291.3 1278.5,297.4 1275,300C1271.5,302.6 1262.5,303.8 1262.5,303.8C1262.5,303.8 1257,295.5 1255,292.5C1253,289.5 1251.9,285.5 1248.8,283.8C1245.6,282 1238.4,282 1235,281.2C1231.6,280.5 1225,278.8 1225,278.8C1225,278.8 1225,220 1225,220Z"/>
<path fill="#ffc30a" d="M1225,220C1225,220 1298.8,220 1298.8,220C1298.8,220 1298.4,254.5 1297.5,260C1296.6,265.5 1292.9,270.5 1290,275C1287.1,279.5 1284.3,284.5 1280,287.5C1275.7,290.5 1268.7,292.5 1265,292.5C1261.3,292.5 1257.7,289.3 1255,287.5C1252.3,285.7 1250.6,282.2 1247.5,281.2C1244.4,280.3 1225,278.8 1225,278.8C1225,278.8 1225,220 1225,220Z"/>
<path fill="#ff8c0a" d="M1225,220C1225,220 1298,220 1298,220C1298,220 1298.9,256.8 1297.5,262.5C1296.1,268.2 1290.1,272 1285,275C1279.9,278 1273.3,279.4 1267.5,280C1261.7,280.6 1255.8,278.9 1250,278.8C1244.2,278.6 1225,278.8 1225,278.8C1225,278.8 1225,220 1225,220Z"/>
<path fill="#ff460a" d="M1225,220 1255,220 1255,265 1250,276.2 1225,278.8Z"/>
<path fill="#f0000a" d="M1225,220 1247,220 1247,272.5 1225,275Z"/>
<path fill="#aa003c" d="M1225,220 1247,220 1247,253.8 1225,255Z"/>
<path fill="#0abe32" d="M1208.8,220C1208.8,220 1215,220 1215,220C1215,220 1217.6,232.9 1217.5,235C1217.4,237.1 1213.8,240 1213.8,240C1213.8,240 1209.3,237.3 1208.8,235C1208.2,232.7 1208.8,220 1208.8,220Z"/>
<path fill="#00dc96" d="M1208.8,390C1208.8,390 1208.4,356 1208.8,350C1209.1,344 1210.3,337.4 1212.5,332.5C1214.7,327.6 1218.3,323.3 1222.5,320C1226.7,316.7 1233.5,313.6 1237.5,312.5C1241.5,311.4 1246,311.3 1250,312.5C1254,313.7 1258,318.1 1262.5,320C1267,321.9 1273.9,324.6 1280,325C1286.1,325.4 1293.4,323.6 1300,322.5C1306.6,321.4 1318.4,318.6 1325,317.5C1331.6,316.4 1345,315 1345,315C1345,315 1345,390 1345,390C1345,390 1208.8,390 1208.8,390Z"/>
<path fill="#00f0fa" d="M1222.5,390C1222.5,390 1221,356 1221.2,350C1221.5,344 1222.9,336.7 1225,332.5C1227.1,328.3 1231,324.9 1235,322.5C1239,320.1 1245.2,317.1 1250,317.5C1254.8,317.9 1258,323.1 1262.5,325C1267,326.9 1273.9,329.8 1280,330C1286.1,330.2 1293.3,327.5 1300,326.2C1306.7,325 1318.4,322.4 1325,321.2C1331.6,320.1 1345,318.8 1345,318.8C1345,318.8 1345,390 1345,390C1345,390 1222.5,390 1222.5,390Z"/>
<path fill="#1270fa" d="M1235,346.2C1235.9,340.7 1245,331.2 1245,331.2C1245,331.2 1255.6,330.1 1260,332.5C1264.4,334.9 1267.3,340.4 1270,345C1272.7,349.6 1272.8,356.6 1276.2,360C1279.7,363.4 1286.7,363.8 1290,365C1293.3,366.2 1300,368.8 1300,368.8C1300,368.8 1295,380 1295,380C1295,380 1250,380 1250,380C1250,380 1242.3,367.7 1240,362.5C1237.7,357.3 1234.1,351.8 1235,346.2Z"/>
<path fill="#00dc96" d="M962.5,325C962.5,325 976.6,320.4 982.5,320C988.4,319.6 1000,322.5 1000,322.5C1000,322.5 1005,330.5 1005,335C1005,339.5 1000,347.5 1000,347.5C1000,347.5 985.5,350.8 980,350C974.5,349.2 965,342.5 965,342.5C965,342.5 962.5,325 962.5,325Z"/>
<path fill="#00dc96" d="M890,326.2C890,326.2 916.7,323.9 925,323.8C933.3,323.6 946.5,324.5 950,325C953.5,325.5 960,328.8 960,328.8C960,328.8 953.7,333.1 950,333.8C946.3,334.4 933.3,334.8 925,335C916.7,335.2 890,335 890,335C890,335 890,326.2 890,326.2Z"/>
</g>
<g clip-path="url(#ta6)">
<rect x="1299" y="79" width="302" height="302" fill="#0abe32"/>
<path fill="#64c80a" d="M1290,220C1290,220 1332.5,220 1332.5,220C1332.5,220 1332.7,246.7 1332.5,255C1332.3,263.3 1332.1,271.7 1331.2,280C1330.4,288.3 1329.9,299 1327.5,305C1325.1,311 1319.3,316.9 1315,320C1310.7,323.1 1303.3,324.3 1300,325C1296.7,325.7 1290,325 1290,325C1290,325 1290,220 1290,220Z"/>
<path fill="#c8e60a" d="M1290,255C1290,255 1310,255 1310,255C1310,255 1314.5,264.8 1315,270C1315.5,275.2 1315.2,286.9 1313.8,292.5C1312.3,298.1 1309.1,304.5 1305,307.5C1300.9,310.5 1290,310 1290,310C1290,310 1290,255 1290,255Z"/>
<path fill="#fff000" d="M1290,260C1290,260 1302.5,260 1302.5,260C1302.5,260 1306.1,269.8 1306.2,275C1306.4,280.2 1303.8,292.5 1303.8,292.5C1303.8,292.5 1290,297.5 1290,297.5C1290,297.5 1290,260 1290,260Z"/>
<path fill="#00dc96" d="M1403.8,225C1403.8,225 1440,225 1440,225C1440,225 1442.5,235 1442.5,235C1442.5,235 1438.3,241.2 1435,242.5C1431.7,243.8 1425,243.8 1420,243.8C1415,243.8 1403.8,242.5 1403.8,242.5C1403.8,242.5 1403.8,225 1403.8,225Z"/>
<path fill="#64c80a" d="M1492.5,115C1492.5,115 1550,117.5 1550,117.5C1550,117.5 1555.4,130.6 1555,137.5C1554.6,144.4 1550.6,156 1547.5,162.5C1544.4,169 1539.2,175.8 1535,180C1530.8,184.2 1523.3,185 1520,190C1516.7,195 1514.1,203.3 1515,210C1515.9,216.7 1521.1,224 1525,227.5C1528.9,231 1536,230.1 1540,232.5C1544,234.9 1546.9,239 1550,242.5C1553.1,246 1555.8,251.7 1560,255C1564.2,258.3 1569.8,260.5 1575,262.5C1580.2,264.5 1594,267.9 1600,270C1606,272.1 1617.5,277.5 1617.5,277.5C1617.5,277.5 1611.9,288.4 1607.5,292.5C1603.1,296.6 1592.5,300.8 1587.5,305C1582.5,309.2 1577.9,314.2 1575,320C1572.1,325.8 1571.6,336.2 1570,340C1568.4,343.8 1566.1,347.9 1562.5,350C1558.9,352.1 1545,355 1545,355C1545,355 1537.1,347.4 1535,342.5C1532.9,337.6 1530,320 1530,320C1530,320 1523.3,326.7 1520,330C1516.7,333.3 1513.3,336.7 1510,340C1506.7,343.3 1503,347.8 1500,350C1497,352.2 1490,355 1490,355C1490,355 1480,346.7 1475,342.5C1470,338.3 1465.8,332.9 1460,330C1454.2,327.1 1446.7,326.7 1440,325C1433.3,323.3 1426.4,322.4 1420,320C1413.6,317.6 1407.1,312.4 1400,310C1392.9,307.6 1381.7,306.5 1375,305C1368.3,303.5 1360.5,303.4 1355,300C1349.5,296.6 1345.1,291 1342.5,285C1339.9,279 1338.8,270.2 1340,265C1341.2,259.8 1345.1,254.6 1350,252.5C1354.9,250.4 1366.6,250 1375,250C1383.4,250 1391.7,251.7 1400,252.5C1408.3,253.3 1419.5,255.7 1425,255C1430.5,254.3 1435,250 1440,247.5C1445,245 1449.6,241.5 1455,240C1460.4,238.5 1469.6,239 1475,237.5C1480.4,236 1490,230 1490,230C1490,230 1492.2,205 1492.5,192.5C1492.8,180 1492.5,115 1492.5,115Z"/>
<path fill="#c8e60a" d="M1347.5,265C1347.5,265 1353.6,258.8 1357.5,258.8C1361.4,258.8 1369.6,262.3 1375,265C1380.4,267.7 1390,275 1390,275C1390,275 1388.8,297.5 1388.8,297.5C1388.8,297.5 1379.5,294.4 1375,292.5C1370.5,290.6 1363.9,287.2 1360,285C1356.1,282.8 1351,281.1 1348.8,277.5C1346.5,273.9 1347.5,265 1347.5,265Z"/>
<path fill="#c8e60a" d="M1435,277.5C1435,277.5 1440.8,265 1445,260C1449.2,255 1456.2,249.9 1460,247.5C1463.8,245.1 1472.5,242.5 1472.5,242.5C1472.5,242.5 1474.9,254.1 1475,260C1475.1,265.9 1475.6,289.1 1473.8,295C1471.9,300.9 1460,307.5 1460,307.5C1460,307.5 1452.9,302.9 1450,300C1447.1,297.1 1442.1,290.6 1440,287.5C1437.9,284.4 1435,277.5 1435,277.5Z"/>
<path fill="#c8e60a" d="M1530,277.5C1530,277.5 1537.9,267.1 1540,265C1542.1,262.9 1547.5,260 1547.5,260C1547.5,260 1550,277.5 1550,277.5C1550,277.5 1543.6,281.2 1540,281.2C1536.4,281.2 1530,277.5 1530,277.5Z"/>
<path fill="#00dc96" d="M1560,220C1561.5,214.9 1565.7,210.6 1570,207.5C1574.3,204.4 1581.8,202.7 1587.5,200C1593.2,197.3 1604.5,189.9 1612.5,187.5C1620.5,185.1 1629.1,184.6 1637.5,185C1645.9,185.4 1654.3,187.9 1662.5,190C1670.7,192.1 1679.2,195 1687.5,197.5C1695.8,200 1704.2,202.5 1712.5,205C1720.8,207.5 1745,215 1745,215C1745,215 1745,355 1745,355C1745,355 1730.1,337.8 1725,330C1719.9,322.2 1715.8,309.9 1712.5,305C1709.2,300.1 1704.9,295.8 1700,292.5C1695.1,289.2 1683.2,283.7 1675,280C1666.8,276.3 1658.3,273.3 1650,270C1641.7,266.7 1633.1,262.4 1625,260C1616.9,257.6 1608.3,256.7 1600,255C1591.7,253.3 1580.3,251.7 1575,250C1569.7,248.3 1560,242.5 1560,242.5C1560,242.5 1558.5,225.1 1560,220Z"/>
<path fill="#00f0fa" d="M1660,250C1660,250 1663,237 1667.5,232.5C1672,228 1678.7,225.8 1685,225C1691.3,224.2 1698.5,225.9 1705,227.5C1711.5,229.1 1718.3,232.5 1725,235C1731.7,237.5 1745,242.5 1745,242.5C1745,242.5 1745,275 1745,275C1745,275 1731.7,273.2 1725,272.5C1718.3,271.8 1708.3,271.2 1700,270C1691.7,268.8 1681.3,268.2 1675,265C1668.7,261.8 1660,250 1660,250Z"/>
<path fill="#64c80a" d="M1595,390C1595,390 1596.2,359.5 1597.5,355C1598.8,350.5 1603.2,347 1607.5,345C1611.8,343 1619.1,341.8 1625,342.5C1630.9,343.2 1644.8,347.2 1650,350C1655.2,352.8 1660.4,357 1662.5,362.5C1664.6,368 1665,390 1665,390C1665,390 1595,390 1595,390Z"/>
<path fill="#00dc96" d="M1290,305C1290,305 1307.5,310.1 1315,312.5C1322.5,314.9 1330.1,317.3 1337.5,320C1344.9,322.7 1354.5,326 1362.5,330C1370.5,334 1381.9,342 1387.5,345C1393.1,348 1398.7,351.7 1405,352.5C1411.3,353.3 1418.3,350 1425,350C1431.7,350 1443,351 1450,352.5C1457,354 1470,360 1470,360C1470,360 1475,390 1475,390C1475,390 1290,390 1290,390C1290,390 1290,305 1290,305Z"/>
<path fill="#00f0fa" d="M1290,315C1290,315 1307.2,317.5 1315,320C1322.8,322.5 1330.1,326.5 1337.5,330C1344.9,333.5 1355.4,338.2 1362.5,342.5C1369.6,346.8 1379.1,354.1 1382.5,357.5C1385.9,360.9 1389.3,365.2 1390,370C1390.7,374.8 1387.5,390 1387.5,390C1387.5,390 1290,390 1290,390C1290,390 1290,315 1290,315Z"/>
</g>
<g clip-path="url(#ta7)">
<rect x="1599" y="99" width="302" height="302" fill="#0abe32"/>
<path fill="#00dc96" d="M1593.1,193.3C1593.1,193.3 1611.6,187.8 1617.3,186.4C1623,185 1628.7,182.9 1634.6,182.9C1640.4,182.9 1646.2,184.7 1651.8,186.4C1657.5,188.1 1663.5,190.8 1669.1,193.3C1674.8,195.9 1680.8,198.8 1686.4,202C1692,205.1 1698,209.2 1703.7,212.3C1709.3,215.4 1714.7,219.5 1721,221C1727.2,222.4 1743.9,224 1755.5,224.4C1767.1,224.8 1824.6,224.4 1824.6,224.4C1824.6,224.4 1824.6,359.2 1824.6,359.2C1824.6,359.2 1710.6,359.2 1710.6,359.2C1710.6,359.2 1711.7,347.7 1712.3,341.9C1712.9,336.2 1714,330.4 1714,324.6C1714,318.9 1714,312.5 1712.3,307.4C1710.6,302.2 1707.9,296.9 1703.7,293.5C1699.4,290.1 1692.2,288.9 1686.4,286.6C1680.6,284.3 1674.8,282.3 1669.1,279.7C1663.5,277.2 1657.6,274 1651.8,271.1C1646.1,268.2 1640.2,265 1634.6,262.4C1628.9,259.9 1623.2,257.3 1617.3,255.5C1611.3,253.8 1593.1,250.3 1593.1,250.3C1593.1,250.3 1593.1,193.3 1593.1,193.3Z"/>
<path fill="#00f0fa" d="M1660.5,248.6C1660.5,244.7 1662.8,238.8 1665.7,234.8C1668.5,230.8 1673.5,226.1 1677.8,224.4C1682,222.7 1687.2,223.1 1691.6,224.4C1696,225.7 1701.9,230.3 1707.1,233.1C1712.4,235.8 1719.7,239.1 1724.4,241.7C1729.2,244.3 1735.8,248.1 1738.2,250.3C1740.7,252.6 1743.4,259 1743.4,259C1743.4,259 1741.5,267.3 1738.2,269.3C1735,271.4 1726.8,272.6 1721,272.8C1715.1,273 1703.3,272.1 1696.8,271.1C1690.3,270 1682.1,267.6 1677.8,265.9C1673.4,264.2 1668.4,261.7 1665.7,259C1662.9,256.2 1660.5,252.5 1660.5,248.6Z"/>
<path fill="#00f0fa" d="M1824.6,279.7C1824.6,279.7 1794.5,278.7 1790.1,279.7C1785.7,280.8 1784.1,286.4 1781.4,290.1C1778.8,293.7 1775.9,299.4 1772.8,303.9C1769.7,308.4 1765.2,313.4 1762.4,317.7C1759.7,322.1 1755.5,331.6 1755.5,331.6C1755.5,331.6 1824.6,331.6 1824.6,331.6C1824.6,331.6 1824.6,279.7 1824.6,279.7Z"/>
<path fill="#1270fa" d="M1786.6,326.7C1786.6,326.7 1810,324.6 1810,324.6C1810,324.6 1814.3,332.4 1814.3,332.4C1814.3,332.4 1786.6,332.4 1786.6,332.4C1786.6,332.4 1786.6,326.7 1786.6,326.7Z"/>
<path fill="#64c80a" d="M1593.1,341.9C1593.1,341.9 1605,341.1 1610.4,341.9C1615.8,342.8 1620.9,345 1625.9,347.1C1631,349.2 1637.6,352.6 1643.2,355.7C1648.8,358.8 1657,363.3 1660.5,366.1C1664,368.9 1668.2,372.1 1669.1,376.5C1670,380.9 1669.1,407.6 1669.1,407.6C1669.1,407.6 1593.1,407.6 1593.1,407.6C1593.1,407.6 1593.1,341.9 1593.1,341.9Z"/>
<path fill="#64c80a" d="M1593.1,265.9C1593.1,265.9 1607.1,267.7 1610.4,269.3C1613.7,271 1617.3,278 1617.3,278C1617.3,278 1612.1,284.4 1608.6,286.6C1605.2,288.8 1593.1,293.5 1593.1,293.5C1593.1,293.5 1593.1,265.9 1593.1,265.9Z"/>
</g>
<g clip-path="url(#ta8)">
<rect x="959" y="249" width="322" height="242" fill="#0abe32"/>
<path fill="#64c80a" d="M956.3,246.3C956.3,246.3 1044.8,246.3 1044.8,246.3C1044.8,246.3 1040.8,262.6 1041.1,268.4C1041.4,274.3 1046.6,285 1046.6,285C1046.6,285 1038,284.8 1033.7,285C1029.4,285.3 1021.5,286.9 1015.3,286.9C1009.1,286.9 1003,285 996.9,285C990.7,285 984.5,285.6 978.4,286.9C972.4,288.1 956.3,293.3 956.3,293.3C956.3,293.3 956.3,246.3 956.3,246.3Z"/>
<path fill="#64c80a" d="M1044.8,246.3C1044.8,246.3 1040.8,262.6 1041.1,268.4C1041.4,274.3 1042.4,281.1 1046.6,285C1050.9,289 1062.2,290 1066.9,292.4C1071.6,294.8 1077.6,298.6 1079.8,301.6C1082,304.6 1082,309.4 1081.7,312.7C1081.4,316 1080.5,319.7 1078,321.9C1075.5,324.1 1070.6,324.4 1066.9,325.6C1063.2,326.7 1054.5,329 1048.5,331.1C1042.4,333.2 1035.8,335.2 1030,338.5C1024.3,341.8 1017,346.7 1013.5,351.4C1010,356 1007.6,362.5 1007.9,368C1008.2,373.5 1014.7,377.7 1015.3,382.7C1015.9,387.7 1013.1,392.6 1011.6,397.5C1010.1,402.3 1006.7,407 1006.1,412.2C1005.5,417.4 1006.2,423.5 1007.9,428.8C1009.7,434.1 1013.2,440.5 1017.1,445.4C1021.1,450.3 1027.4,455.2 1031.9,458.3C1036.4,461.4 1042.4,462.6 1046.6,465.7C1050.9,468.7 1053.7,473.4 1057.7,476.7C1061.7,480 1067.1,484.3 1072.4,486.9C1077.8,489.4 1085.7,492.5 1092.7,493.3C1099.8,494.2 1125.9,493.3 1125.9,493.3C1125.9,493.3 1127.8,476.2 1129.6,471.2C1131.4,466.2 1135.6,461.8 1138.8,458.3C1142,454.8 1146.5,452.5 1149.9,449.1C1153.3,445.7 1157.4,440.6 1160.9,436.2C1164.5,431.8 1168.6,425.4 1172,421.4C1175.4,417.5 1179.7,414.3 1183,410.4C1186.4,406.4 1192.3,397.5 1192.3,397.5C1192.3,397.5 1187.2,389.6 1184.9,386.4C1182.6,383.2 1179.5,380.6 1177.5,377.2C1175.5,373.8 1172.9,368.5 1172,364.3C1171.1,360.1 1170.7,355.5 1172,351.4C1173.2,347.3 1176.6,343.7 1179.4,340.3C1182.1,337 1185.2,333.9 1188.6,331.1C1191.9,328.3 1197.2,325 1201.5,321.9C1205.8,318.8 1210.2,315.4 1214.4,312.7C1218.5,310 1222.8,307.4 1227.3,305.3C1231.8,303.2 1237.8,301.2 1242,299.8C1246.3,298.4 1251.6,298.2 1254.9,296.1C1258.3,294 1261.7,290.8 1262.3,286.9C1262.9,283 1262.3,246.3 1262.3,246.3C1262.3,246.3 1044.8,246.3 1044.8,246.3Z"/>
<path fill="#64c80a" d="M1125.9,493.3C1125.9,493.3 1127.4,476.4 1129.6,471.2C1131.8,466 1136.3,461.7 1140.6,458.3C1145,454.9 1150.5,451.8 1155.4,450.9C1160.3,450 1165.8,453.7 1170.1,452.8C1174.5,451.8 1181.2,445.4 1181.2,445.4C1181.2,445.4 1186.1,452.4 1186.7,456.5C1187.3,460.5 1184,467.4 1184.9,471.2C1185.8,475 1192.3,480.4 1192.3,480.4C1192.3,480.4 1203.6,480.5 1208.8,478.6C1214.1,476.6 1221.7,471.1 1227.3,467.5C1232.9,464 1243.9,456.5 1243.9,456.5C1243.9,456.5 1253.1,460.1 1253.1,460.1C1253.1,460.1 1250.3,467.1 1247.6,469.4C1244.8,471.6 1237.7,474.3 1232.8,476.7C1227.9,479.2 1223.2,482.1 1218.1,484.1C1212.9,486.1 1205.7,488.1 1199.6,489.6C1193.6,491.2 1187.5,493 1181.2,493.3C1174.9,493.6 1125.9,493.3 1125.9,493.3Z"/>
<path fill="#c8e60a" d="M1052.2,246.3C1052.2,246.3 1048.5,264 1048.5,268.4C1048.5,272.9 1052.2,281.3 1052.2,281.3C1052.2,281.3 1065.1,284.1 1070.6,286.9C1076.1,289.6 1082.6,294.4 1085.3,297.9C1088.1,301.5 1089,306.4 1089,310.8C1089,315.3 1088.4,320.4 1085.3,323.7C1082.3,327 1075.7,329.1 1070.6,331.1C1065.5,333.1 1058.2,334.5 1052.2,336.6C1046.1,338.8 1039.1,341 1033.7,344C1028.4,347 1021.7,351.5 1019,355.1C1016.3,358.6 1014.7,363.5 1015.3,368C1015.9,372.4 1022,377.7 1022.7,382.7C1023.3,387.7 1020.5,392.6 1019,397.5C1017.5,402.3 1014.1,407.3 1013.5,412.2C1012.8,417.1 1013.6,422.3 1015.3,427C1017,431.6 1020.8,437.4 1024.5,441.7C1028.2,446 1032.8,449.7 1037.4,452.8C1042,455.8 1047.9,457.1 1052.2,460.1C1056.4,463.2 1059.1,468 1063.2,471.2C1067.3,474.4 1072.7,478.1 1078,480.4C1083.3,482.8 1091,484.8 1096.4,485.9C1101.9,487.1 1109.1,488.6 1113,487.8C1116.8,487 1120.6,484 1122.2,480.4C1123.9,476.8 1122.3,468.3 1124.1,463.8C1125.8,459.4 1129.9,456.2 1133.3,452.8C1136.7,449.4 1140.9,446.9 1144.3,443.5C1147.7,440.2 1151.9,435.1 1155.4,430.6C1158.9,426.2 1163.1,419.9 1166.5,415.9C1169.8,411.9 1174.9,407.7 1177.5,404.8C1180.2,401.9 1184.9,395.6 1184.9,395.6C1184.9,395.6 1180,389.5 1177.5,386.4C1175.1,383.3 1172.1,380.6 1170.1,377.2C1168.2,373.8 1165.5,368.9 1164.6,364.3C1163.7,359.7 1163.4,353.8 1164.6,349.5C1165.8,345.3 1169.3,342 1172,338.5C1174.6,334.9 1177.7,330.7 1181.2,327.4C1184.7,324.2 1189.9,321.5 1194.1,318.2C1198.3,314.9 1202.4,310.2 1207,307.1C1211.6,304.1 1216.9,301.9 1221.8,299.8C1226.6,297.7 1232.9,295.3 1236.5,294.2C1240.1,293.2 1244.7,293.5 1247.6,292.4C1250.4,291.3 1254.4,289.9 1254.9,286.9C1255.4,283.8 1254.9,246.3 1254.9,246.3C1254.9,246.3 1052.2,246.3 1052.2,246.3Z"/>
<path fill="#c8e60a" d="M1014.9,246.3C1014.9,246.3 1052.2,246.3 1052.2,246.3C1052.2,246.3 1052.2,261.1 1052.2,261.1C1052.2,261.1 1039.9,259.8 1033.7,259.2C1027.6,258.6 1014.9,257.4 1014.9,257.4C1014.9,257.4 1014.9,246.3 1014.9,246.3Z"/>
<path fill="#fff000" d="M1078,246.3C1078,246.3 1086,255.8 1089,261.1C1092.1,266.3 1094.6,271.9 1096.4,277.6C1098.2,283.4 1100.1,289.8 1100.1,296.1C1100.1,302.3 1097.4,310.2 1096.4,314.5C1095.4,318.9 1093.9,323.7 1092.7,327.4C1091.6,331.1 1091,335.1 1089,338.5C1087.1,341.9 1082.3,348.9 1078,353.2C1073.6,357.6 1067.8,360.2 1063.2,364.3C1058.6,368.3 1053.4,374.1 1048.5,379C1043.6,383.9 1036.2,390.1 1033.7,393.8C1031.3,397.5 1029.4,402.3 1030,406.7C1030.7,411.1 1034.1,415.9 1037.4,419.6C1040.8,423.2 1046.8,427.7 1052.2,430.6C1057.5,433.6 1064.6,436.2 1070.6,438C1076.6,439.8 1082.9,441.1 1089,441.7C1095.1,442.3 1102.3,442.6 1107.5,441.7C1112.6,440.8 1118.3,438.9 1122.2,436.2C1126.2,433.4 1129.3,429.4 1131.4,425.1C1133.6,420.8 1135.4,415.4 1135.1,410.4C1134.8,405.3 1131.6,400.5 1129.6,395.6C1127.6,390.8 1123.6,383.8 1122.2,379C1120.8,374.3 1119.8,369.2 1120.4,364.3C1121,359.4 1123.1,353.9 1125.9,349.5C1128.7,345.2 1133,341.9 1137,338.5C1140.9,335.1 1148.1,330 1151.7,327.4C1155.3,324.8 1159,322.4 1162.8,320C1166.5,317.7 1173.1,313.8 1177.5,310.8C1181.9,307.9 1186.9,304.9 1190.4,301.6C1194,298.4 1197.3,294 1199.6,290.6C1201.9,287.1 1204.5,283.6 1205.2,279.5C1205.8,275.4 1207,246.3 1207,246.3C1207,246.3 1078,246.3 1078,246.3Z"/>
<path fill="#ffc30a" d="M1100.1,246.3C1100.1,246.3 1104.7,256.5 1107.5,261.1C1110.2,265.6 1113.6,269.7 1116.7,274C1119.8,278.3 1123,283.1 1125.9,286.9C1128.8,290.7 1131.4,294.9 1135.1,297.9C1138.8,301 1143.3,303.7 1148,305.3C1152.7,306.9 1157.8,307.8 1162.8,307.1C1167.7,306.5 1173,304.3 1177.5,301.6C1182,298.9 1187.4,293.8 1190.4,290.6C1193.4,287.3 1196.4,282.9 1197.8,279.5C1199.2,276 1199.4,272.2 1199.6,268.4C1199.8,264.7 1199.6,246.3 1199.6,246.3C1199.6,246.3 1100.1,246.3 1100.1,246.3Z"/>
<path fill="#ff8c0a" d="M1118.5,246.3C1118.5,246.3 1119.2,255.8 1120.4,259.2C1121.5,262.6 1123.5,265.8 1125.9,268.4C1128.3,271.1 1132.8,275.3 1137,277.6C1141.1,280 1146.9,282.1 1151.7,283.2C1156.5,284.2 1161.6,284.7 1166.5,284.1C1171.3,283.5 1177.4,281.7 1181.2,279.5C1185,277.3 1189.1,274.4 1190.4,270.3C1191.7,266.1 1191.3,246.3 1191.3,246.3C1191.3,246.3 1118.5,246.3 1118.5,246.3Z"/>
<path fill="#0abe32" d="M1205.2,292.4C1205.2,292.4 1211.6,285.9 1211.6,285.9C1211.6,285.9 1218.1,292.4 1218.1,292.4C1218.1,292.4 1212.5,300.7 1212.5,300.7C1212.5,300.7 1205.2,292.4 1205.2,292.4Z"/>
<path fill="#0abe32" d="M1029.1,439.9C1029.1,439.9 1033.7,434.3 1033.7,434.3C1033.7,434.3 1039.3,439.9 1039.3,439.9C1039.3,439.9 1033.7,445.4 1033.7,445.4C1033.7,445.4 1029.1,439.9 1029.1,439.9Z"/>
<path fill="#c8e60a" d="M1243.9,246.3C1243.9,246.3 1243.9,292.4 1243.9,292.4C1243.9,292.4 1251,296.8 1254.9,297.9C1258.9,299.1 1264.7,300.1 1269.7,299.8C1274.6,299.5 1284.4,296.1 1284.4,296.1C1284.4,296.1 1284.4,307.1 1284.4,307.1C1284.4,307.1 1277.1,310.5 1273.4,310.8C1269.6,311.1 1265.8,310.4 1262.3,309C1258.9,307.5 1255.2,303.6 1251.2,301.6C1247.3,299.6 1240.2,298.4 1236.5,296.1C1232.8,293.8 1228.1,291.1 1227.3,286.9C1226.5,282.6 1227.3,246.3 1227.3,246.3C1227.3,246.3 1243.9,246.3 1243.9,246.3Z"/>
<path fill="#fff000" d="M1227.3,246.3C1227.3,246.3 1227.3,281.3 1227.3,281.3C1227.3,281.3 1233.5,280.5 1236.5,281.3C1239.5,282.1 1243.6,285.8 1247.6,286.9C1251.5,287.9 1258.6,289 1264.1,288.7C1269.7,288.4 1284.4,285 1284.4,285C1284.4,285 1284.4,296.1 1284.4,296.1C1284.4,296.1 1274.6,299.5 1269.7,299.8C1264.7,300.1 1258.9,299.1 1254.9,297.9C1251,296.8 1246.5,294 1243.9,292.4C1241.2,290.8 1239.3,288.1 1236.5,286.9C1233.7,285.6 1227.3,285 1227.3,285C1227.3,285 1227.3,246.3 1227.3,246.3Z"/>
<path fill="#ffc30a" d="M1227.3,246.3C1227.3,246.3 1227.3,274 1227.3,274C1227.3,274 1233.5,273.4 1236.5,274C1239.5,274.6 1242.5,277 1245.7,277.6C1249,278.3 1258,279.8 1264.1,279.5C1270.3,279.2 1284.4,275.8 1284.4,275.8C1284.4,275.8 1284.4,285 1284.4,285C1284.4,285 1269.7,288.4 1264.1,288.7C1258.6,289 1251.5,287.9 1247.6,286.9C1243.6,285.8 1239.4,282.4 1236.5,281.3C1233.6,280.3 1227.3,279.5 1227.3,279.5C1227.3,279.5 1227.3,246.3 1227.3,246.3Z"/>
<path fill="#ff8c0a" d="M1245.7,246.3C1245.7,246.3 1284.4,246.3 1284.4,246.3C1284.4,246.3 1284.4,275.8 1284.4,275.8C1284.4,275.8 1270.3,279.2 1264.1,279.5C1258,279.8 1245.7,277.6 1245.7,277.6C1245.7,277.6 1245.7,246.3 1245.7,246.3Z"/>
<path fill="#f0000a" d="M1227.3,246.3 1245.7,246.3 1245.7,272.1 1227.3,274Z"/>
<path fill="#00dc96" d="M1247.6,303.5C1247.6,303.5 1237.6,309.4 1232.8,312.7C1228,316 1222.7,319.7 1218.1,323.7C1213.5,327.7 1208.3,331.7 1205.2,336.6C1202.1,341.6 1200.2,347.7 1199.6,353.2C1199,358.8 1200,364.5 1201.5,369.8C1203,375.2 1206.1,381.3 1208.8,386.4C1211.6,391.5 1214.6,396.5 1218.1,401.2C1221.5,405.8 1226.2,411.4 1231,415.9C1235.7,420.4 1242.4,425.6 1247.6,428.8C1252.7,432 1258.4,434.2 1264.1,436.2C1269.9,438.2 1284.4,441.7 1284.4,441.7C1284.4,441.7 1284.4,305.3 1284.4,305.3C1284.4,305.3 1270.2,311.1 1264.1,310.8C1258.1,310.5 1247.6,303.5 1247.6,303.5Z"/>
<path fill="#00f0fa" d="M1249.4,310.8C1244.5,311.5 1240.7,315.5 1236.5,318.2C1232.3,320.9 1227.1,324.2 1223.6,327.4C1220.1,330.7 1216.8,334.3 1214.4,338.5C1212,342.6 1209.6,349 1208.8,353.2C1208.1,357.5 1208.7,362 1209.8,366.1C1210.9,370.3 1213.7,376.1 1216.2,380.9C1218.7,385.6 1222.1,391.1 1225.4,395.6C1228.8,400.2 1232.3,404.7 1236.5,408.5C1240.6,412.4 1246.6,416.8 1251.2,419.6C1255.9,422.3 1261,424.1 1266,426C1271,428 1284.4,432.5 1284.4,432.5C1284.4,432.5 1284.4,314.5 1284.4,314.5C1284.4,314.5 1269.2,315 1264.1,314.5C1259.1,314 1254.3,310.2 1249.4,310.8Z"/>
<path fill="#1270fa" d="M1232.8,347.7C1232.8,347.7 1237.3,337.4 1240.2,334.8C1243.1,332.2 1247.4,330.8 1251.2,331.1C1255.1,331.4 1259.3,333.9 1262.3,336.6C1265.4,339.4 1268.7,345.1 1271.5,349.5C1274.4,354 1278.9,362.7 1280,364.3C1281.1,365.9 1283.9,366.1 1284.4,368C1284.9,369.8 1284.4,380.9 1284.4,380.9C1284.4,380.9 1273.8,383.3 1269.7,382.7C1265.6,382.1 1262,379.5 1258.6,377.2C1255.2,374.9 1250.8,370.9 1247.6,368C1244.3,365 1240.8,362.1 1238.3,358.8C1235.9,355.4 1232.8,347.7 1232.8,347.7Z"/>
<path fill="#00dc96" d="M960,327.4C962.4,325.2 967.1,323.6 971.1,322.8C975,322 982.7,321.7 987.6,321.9C992.6,322 1002.4,323.7 1002.4,323.7C1002.4,323.7 1006.7,329.5 1007,332.9C1007.3,336.4 1006.7,341.1 1004.2,344C1001.8,346.9 997.2,348.8 993.2,349.5C989.1,350.3 979.8,350.1 974.7,349.5C969.7,349 962.7,347.8 960,345.9C957.3,344 956.3,339.9 956.3,336.6C956.3,333.3 957.6,329.7 960,327.4Z"/>
</g>
</g></g>
<g filter="url(#boa)" fill="none" stroke="#0a0a0a" stroke-width="1.8" stroke-linejoin="round" stroke-linecap="round">
<path d="M550,373.8 545,385 525,390 520,397.5 497.5,400 480,397.5 465,396.2 452.5,402.5 445,415 440,430 432.5,440 420,441.2 415,445 405,442.5 392.5,446.2 387.5,451.2 376.3,450 373.8,440 370,427.5 365,425 350,435 340,440 327.5,441.2 315,435 310,441.2 317.5,445 300,452.5 290,457.5 280,465 265,466.3 252.5,470 245,482.5 243.7,490 250,492.5 250,502.5 240,507.5 227.5,510 220,515 222.5,525 230,532.5 237.5,540 243.7,542.5 240,547.5 235,548.8 235,557.5 238.8,567.5 245,573.8 257.5,576.3 262.5,568.8 277.5,566.3 295,570 312.5,577.5 317.5,585 312.5,592.5 311.2,600 315,607.5 320,615 322.5,627.5 326.3,632.5 320,637.5 317.5,642.5 322.5,647.5 332.5,652.5 337.5,656.3 332.5,662.5 322.5,663.7 310,668.7 300,665 290,667.5 287.5,673.7 292.5,681.3 302.5,680 310,683.7 317.5,688.7 325,685 337.5,683.7 350,687.5 355,697.5 360,702.5 375,701.3 385,707.5 392.5,717.5 397.5,727.5 396.3,737.5 400,740 392.5,747.5 395,752.5 402.5,755 407.5,765 412.5,768.7 425,765 435,760 437.5,767.5 445,773.7 455,780 470,785 485,790 500,793.7 512.5,795 522.5,792.5 545,792.5 547.5,795 538.8,805 540,815 547.5,827.5 552.5,840 552.5,847.5 560,855 570,857.5 582.5,863.7 595,870 605,871.2 615,870 624,867.5"/>
<path d="M312.5,596.3 330,595 345,600 352.5,610 360,616.3 375,620 385,617.5 387.5,622.5 382.5,630 382.5,636.3 397.5,632.5 415,630 430,622.5 432.5,610 437.5,600 440,587.5 435,580 422.5,578.8 420,572.5 410,567.5 400,560 390,550 382.5,542.5 370,542.5 365,535 370,527.5 365,525 360,522.5 350,522.5 346.3,512.5 350,500 362.5,496.3 375,500 390,501.2 415,500 436.3,498.8 450,487.5 457.5,482.5 485,481.2 515,475 550,470 572.5,467.5 590,460 610,453.8 624,452.5"/>
<path d="M550,373.8 570,375 590,390 600,405 592.5,412.5 580,415 577.5,427.5 565,435 547.5,445 540,460 552.5,467.5"/>
<path d="M370,527.5 377.5,522.5 387.5,521.2 385,527.5 402.5,526.3 405,535 402.5,540 387.5,540 380,535 377.5,530Z"/>
<path d="M512.5,642.5 525,627.5 545,607.5 565,590 575,581.3 595,570 624,556.3"/>
<path d="M512.5,642.5 515,657.5 511.2,670 512.5,680 505,687.5 501.3,697.5 510,705 497.5,717.5 505,722.5 515,732.5 525,737.5 530,745 520,755 527.5,765 527.5,780 522.5,792.5"/>
<path d="M561.3,632.5 575,627.5 577.5,640 572.5,642.5 562.5,641.3Z"/>
<path d="M585.7,490.3 594.3,497.2 609.9,495.5 623.7,490.3 630.6,481.7 644.4,480 649.6,474.8 644.4,466.1 630.6,464.4 613.3,469.6 606.4,478.2 597.8,488.6Z"/>
<path d="M720.4,428.1 741.2,424.7 770.6,417.8 789.6,410.8 810.3,405.7 813.8,422.9 818.9,436.8 796.5,440.2 761.9,443.7 736,442 723.9,440.2 727.4,435Z"/>
<path d="M624,866.2 639,863.7 656.5,863.7 666.5,861.2 671.5,845 676.5,832.5 684,817.5 696.5,810 701.5,797.5 709,795 724,798.7 736.5,801.3 749,802.5 756.5,797.5 766.5,801.3 776.5,800 786.5,808.7 799,807.5 814,806.3 824,800 824,792.5 836.5,787.5 844,780 854,775 864,776.3 874,778.7 886.5,778 890.2,787.5 896.5,795 911.5,797.5 924,800 944,800 959,796.3 974,800 989,795 996.5,787.5 1009,783.7 1024,777.5 1034,773.7 1049,771.3 1058,772.5"/>
<path d="M624,452.5 639,453.8 654,457.5 666.5,465 669,472.5 664,480 662.8,495 674,502.5 686.5,507.5 921.5,507.5 961.5,472.5 964,445 967.8,395 962.8,370"/>
<path d="M921.5,507.5 919,545 919,587.5 939,600 951.5,612.5 959,630 961.5,647.5 946.5,665 949,682.5 951.5,697.5 969,705 984,715 986.5,727.5 1004,737.5 1021.5,747.5 1026.5,762.5 1029,775"/>
<path d="M624,556.3 649,556.3 655.2,540 659,520 662.8,495"/>
<path d="M624,656.3 634,656.3 634,671.3 624,671.3Z"/>
<path d="M649,660 655.2,646.3 665.3,643.7 659,652.5 654,661.3"/>
<path d="M1058,772.5 1062.5,776.3 1075,780 1080,773.7 1100,771.3 1110,762.5 1115,747.5 1122.5,742.5 1140,740 1155,735 1162.5,732.5 1175,733.7 1190,728.7 1202.5,725 1207.5,730 1225,728.7 1250,723.7 1275,720 1287.5,725 1297.5,732.5 1307.5,730"/>
<path d="M1307.5,729.4 1312.5,731.3 1325,735 1337.5,738.7 1350,745 1362.5,749.4 1382.5,748.7 1387.5,736.3 1393.7,737.5 1400,745 1412.5,746.9 1425,746.3 1437.5,747.5 1442.5,752.5 1450,751.3 1461.3,750 1466.2,746.3 1463.7,740 1460.6,731.3 1458.8,717.5 1441.3,715 1437.5,712.5 1436.2,702.5 1442.5,696.3 1455,692.5 1466.2,687.5 1477.5,683.7 1480,680 1472.5,671.3 1466.2,657.5 1461.3,650 1450,647.5 1443.7,638.7 1435,635 1423.1,632.5 1421.9,597.5"/>
<path d="M1410,592.5 1425,591.9 1425,597.5 1411.2,597.5Z"/>
<path d="M1403.8,579.4 1415,578.8 1425,572.5 1431.2,566.3 1462.5,563.8 1481.2,560 1500,555 1517,550"/>
<path d="M1702.8,370 1684,382.5 1669,395 1656.5,410 1654,423.8 1634,426.2 1609,428.8 1594,432.5 1591.5,447.5 1584,465 1579,482.5 1574,500 1564,512.5 1552.7,525 1556.5,540 1546.5,543.8 1521.5,548.8 1496.5,556.3 1471.5,562.5"/>
<path d="M1434,382.5 1471.5,385 1506.5,383.8 1519,380 1517.7,370"/>
<path d="M1519,380 1546.5,387.5 1584,392.5 1609,400 1634,406.2 1656.5,410"/>
<path d="M550,373.8 567.5,370 585,362.5 605,352.5 625,343.8 645,340 660,337.5 670,330 680,327.5 690,326.2 690,317.5 700,311.2 712.5,305 730,303.8 746.2,302.5 752.5,308.8 760,311.2 761.2,307.5 775,306.2 800,302.5 825,297.5 850,291.2 867.5,287.5 860,278.8 852.5,270 862.5,265 880,261.2 900,257.5 920,255 934,253.8"/>
<path d="M867.5,287.5 880,286.2 890,287.5 900,290 912.5,291.2 922.5,296.2 934,296.2"/>
<path d="M934,253.8 940,250 945,247.5 962.5,250 975,248.8 990,250 1005,246.2 1000,240 1002.5,235 1010,232.5 1007.5,227.5 1015,225 1020,228.8 1030,223.8 1037.5,218.8 1050,222.5 1065,223.8 1075,222.5 1087.5,226.2 1100,228.8 1107.5,230 1115,236.2 1125,242.5 1135,247.5 1140,251.2 1155,251.2 1165,255 1175,258.8 1187.5,256.2 1195,252.5 1200,247.5 1198.8,242.5 1202.5,238.8 1215,240 1225,238.8 1240,238.8 1255,235 1260,237.5 1262.5,245 1275,245 1282.5,240 1287.5,235 1300,232.5 1310,230 1312.5,217.5 1320,215 1330,217.5 1334,222.5"/>
<path d="M934,296.2 957.5,293.8 958.8,305 953.8,312.5 958.8,325 961.2,337.5 956.3,350 958.8,362.5 962.8,370"/>
<path d="M1195,252.5 1207.5,257.5 1213.7,260 1208.8,265 1210.5,275 1222.5,277.5 1233.7,276.8 1242.3,285.3 1255.5,291.8 1257.2,300.3 1245.5,306.8 1238.8,313.5 1242.3,322 1253.8,330.3 1263.7,340.3 1270.5,353.5 1269.5,365.3 1290,367 1300,367.5"/>
<path d="M1057.5,341.2 1065,335 1072.5,337.5 1070,342.5 1087.5,342 1088.7,355 1080,355 1080,350 1060,349.5Z"/>
<path d="M1095,346.2 1110,346.2"/>
<path d="M1334,222.5 1342.5,228.8 1357.5,230 1375,227.5 1387.5,223.8 1400,220 1412.5,223.8 1437.5,223.8 1467.5,223.8 1482.5,218.8 1492.5,215 1495,210 1482.5,210 1495,205 1492.5,197.5 1482.5,190 1478.7,180 1480,167.5 1478.7,157.5 1485,137.5 1490,130 1497.5,125 1495,117.5 1497.5,112.5 1512.5,113.8 1537.5,115 1562.5,117.5 1587.5,117.5 1612.5,120 1632.5,122.5"/>
<path d="M1467.5,223.8 1472.5,232.5 1477.5,242.5 1482.5,260 1487.5,280 1490,300 1495,312.5 1505,322.5 1512.5,335 1516.2,350 1520,367.5 1521.2,380"/>
<path d="M1297.5,367.5 1325,373.8 1350,375 1375,377.5 1400,380 1434,382.5"/>
<path d="M1632.5,122.5 1648.4,127.6 1660.5,132 1677.8,139.7 1693.3,150.1 1707.1,155.3 1717.5,163.9 1731.3,167.4 1746.9,169.1 1771.1,168.3 1765.9,176 1765,186.4 1776.3,188.1 1783.2,196.8 1788.4,210.6 1795.3,224.4 1802.2,238.2 1807.4,245.2 1817.7,252.1 1829.8,260.7 1838.5,269.3 1837.6,279.7 1824.6,284.9 1814.3,290.1 1810.8,300.4 1816,305.6 1814.3,309.1 1822.9,316 1818.6,321.2 1819.5,329.8 1814.3,335 1798.7,340.2 1781.4,345.4 1769.3,352.3 1760.7,360.9 1755.5,355.7 1752.1,347.1 1738.2,350.6 1727.9,355.7 1721,362.7 1708.9,364.4 1702.8,369.9"/>
</g></g>
<g>
<rect x="181.2" y="46.6" width="6" height="850" fill="#d6d6d6"/>
<rect x="1878.2" y="46.6" width="6.5" height="850" fill="#dedede"/>
<rect x="153.2" y="187.4" width="31" height="2.4" fill="#c2c2c2"/>
<rect x="153.2" y="329" width="31" height="2.4" fill="#c2c2c2"/>
<rect x="153.2" y="470.6" width="31" height="2.4" fill="#c2c2c2"/>
<rect x="153.2" y="612.2" width="31" height="2.4" fill="#c2c2c2"/>
<rect x="153.2" y="753.8" width="31" height="2.4" fill="#c2c2c2"/>
<rect x="325.5" y="896.6" width="1.6" height="31" fill="#b0b0b0"/>
<rect x="678.7" y="896.6" width="1.6" height="31" fill="#b0b0b0"/>
<rect x="1031.8" y="896.6" width="1.6" height="31" fill="#b0b0b0"/>
<rect x="1384.9" y="896.6" width="1.6" height="31" fill="#b0b0b0"/>
<rect x="1738.1" y="896.6" width="1.6" height="31" fill="#b0b0b0"/>
<rect x="153.2" y="45.1" width="1731.5" height="3" fill="#bdbdbd"/>
<rect x="153.2" y="895.1" width="1730.5" height="3" fill="#909090"/>
</g>
<g fill="#161616" font-size="41.2">
<text x="128" y="62.6" text-anchor="end">46°N</text>
<text x="128" y="204.2" text-anchor="end">44°N</text>
<text x="128" y="345.8" text-anchor="end">42°N</text>
<text x="128" y="487.4" text-anchor="end">40°N</text>
<text x="128" y="629" text-anchor="end">38°N</text>
<text x="128" y="770.6" text-anchor="end">36°N</text>
<text x="128" y="912.2" text-anchor="end">34°N</text>
<text x="326.3" y="984" text-anchor="middle">75°E</text>
<text x="679.5" y="984" text-anchor="middle">80°E</text>
<text x="1032.6" y="984" text-anchor="middle">85°E</text>
<text x="1385.7" y="984" text-anchor="middle">90°E</text>
<text x="1738.9" y="984" text-anchor="middle">95°E</text>
<text x="1033.6" y="1045.5" font-size="43.3" text-anchor="middle" textLength="559" lengthAdjust="spacingAndGlyphs">Average R95IND (mm/times)</text>
<text x="401.8" y="1145.2" font-size="43.3" text-anchor="middle">4</text>
<text x="506.9" y="1145.2" font-size="43.3" text-anchor="middle">5</text>
<text x="612" y="1145.2" font-size="43.3" text-anchor="middle">6</text>
<text x="717.2" y="1145.2" font-size="43.3" text-anchor="middle">7</text>
<text x="822.4" y="1145.2" font-size="43.3" text-anchor="middle">8</text>
<text x="927.5" y="1145.2" font-size="43.3" text-anchor="middle">9</text>
<text x="1032.7" y="1145.2" font-size="43.3" text-anchor="middle">10</text>
<text x="1137.8" y="1145.2" font-size="43.3" text-anchor="middle">11</text>
<text x="1242.9" y="1145.2" font-size="43.3" text-anchor="middle">12</text>
<text x="1348.1" y="1145.2" font-size="43.3" text-anchor="middle">13</text>
<text x="1453.2" y="1145.2" font-size="43.3" text-anchor="middle">14</text>
<text x="1558.4" y="1145.2" font-size="43.3" text-anchor="middle">15</text>
<text x="1663.5" y="1145.2" font-size="43.3" text-anchor="middle">16</text>
<text x="280" y="114" font-family="'Liberation Serif', serif" font-size="40">(d)</text>
</g>
<g shape-rendering="crispEdges">
<rect x="296.6" y="1064" width="105.6" height="38" fill="#0000f5"/>
<rect x="401.8" y="1064" width="105.6" height="38" fill="#1270fa"/>
<rect x="506.9" y="1064" width="105.6" height="38" fill="#00f0fa"/>
<rect x="612" y="1064" width="105.6" height="38" fill="#00dc96"/>
<rect x="717.2" y="1064" width="105.6" height="38" fill="#0abe32"/>
<rect x="822.4" y="1064" width="105.6" height="38" fill="#64c80a"/>
<rect x="927.5" y="1064" width="105.6" height="38" fill="#c8e60a"/>
<rect x="1032.7" y="1064" width="105.6" height="38" fill="#fff000"/>
<rect x="1137.8" y="1064" width="105.6" height="38" fill="#ffc30a"/>
<rect x="1242.9" y="1064" width="105.6" height="38" fill="#ff8c0a"/>
<rect x="1348.1" y="1064" width="105.6" height="38" fill="#ff460a"/>
<rect x="1453.2" y="1064" width="105.6" height="38" fill="#f0000a"/>
<rect x="1558.4" y="1064" width="105.6" height="38" fill="#aa003c"/>
<rect x="1663.5" y="1064" width="105.1" height="38" fill="#500a96"/>
</g>
<g><defs>
<clipPath id="mb"><path clip-rule="evenodd" d="M512,1608.9 512,1625 479.8,1625 479.8,1641.1 447.7,1641.1 447.7,1625 431.6,1625 431.6,1641.1 415.5,1641.1 415.5,1673.2 286.9,1673.2 286.9,1689.3 238.7,1689.3 238.7,1769.7 303,1769.7 303,1834 319.1,1834 319.1,1882.2 351.2,1882.2 351.2,1898.3 383.4,1898.3 383.4,1946.5 415.5,1946.5 415.5,1962.6 512,1962.6 512,2010.8 528,2010.8 528,2026.9 560.2,2026.9 560.2,2042.9 576.3,2042.9 608.4,2042.9 608.4,2010.8 624.5,2010.8 624.5,1994.7 640.6,1994.7 640.6,1978.7 753.1,1978.7 753.1,1962.6 817.4,1962.6 817.4,1978.7 897.8,1978.7 897.8,1962.6 946,1962.6 946,1946.5 1010.3,1946.5 1010.3,1930.4 1042.4,1930.4 1042.4,1914.3 1235.3,1914.3 1235.3,1930.4 1331.8,1930.4 1331.8,1914.3 1299.7,1914.3 1299.7,1882.2 1331.8,1882.2 1331.8,1866.1 1315.7,1866.1 1315.7,1850 1299.7,1850 1299.7,1801.8 1283.6,1801.8 1283.6,1769.7 1331.8,1769.7 1331.8,1753.6 1412.2,1753.6 1412.2,1721.5 1428.2,1721.5 1428.2,1689.3 1444.3,1689.3 1444.3,1641.1 1508.6,1641.1 1508.6,1608.9 1524.7,1608.9 1524.7,1592.8 1556.8,1592.8 1556.8,1576.8 1605.1,1576.8 1605.1,1560.7 1653.3,1560.7 1653.3,1496.4 1637.2,1496.4 1637.2,1464.2 1621.1,1464.2 1621.1,1448.2 1605.1,1448.2 1605.1,1416 1540.8,1416 1540.8,1400 1508.6,1400 1508.6,1383.9 1444.3,1383.9 1444.3,1367.8 1380,1367.8 1380,1383.9 1364,1383.9 1364,1432.1 1380,1432.1 1380,1464.2 1283.6,1464.2 1283.6,1480.3 1219.3,1480.3 1219.3,1464.2 1203.2,1464.2 1203.2,1480.3 1187.1,1480.3 1187.1,1496.4 1138.9,1496.4 1138.9,1480.3 1122.8,1480.3 1122.8,1512.5 1090.7,1512.5 1090.7,1496.4 1026.4,1496.4 1026.4,1480.3 978.1,1480.3 978.1,1464.2 946,1464.2 946,1480.3 929.9,1480.3 929.9,1496.4 817.4,1496.4 817.4,1512.5 801.3,1512.5 801.3,1528.5 785.2,1528.5 785.2,1544.6 656.6,1544.6 656.6,1560.7 624.5,1560.7 624.5,1576.8 592.3,1576.8 592.3,1592.8 560.2,1592.8 560.2,1608.9 512,1608.9Z"/></clipPath>
<clipPath id="tb0"><rect x="180" y="1560" width="520.6" height="520.6"/></clipPath>
<clipPath id="tb1"><rect x="700" y="1560" width="520.6" height="520.6"/></clipPath>
<clipPath id="tb2"><rect x="1220" y="1560" width="520.6" height="520.6"/></clipPath>
<clipPath id="tb3"><rect x="700" y="1340" width="520.6" height="240.6"/></clipPath>
<clipPath id="tb4"><rect x="1220" y="1340" width="520.6" height="240.6"/></clipPath>
<clipPath id="tb5"><rect x="440" y="1460" width="520.6" height="240.6"/></clipPath>
<filter id="blb" x="-2%" y="-2%" width="104%" height="104%"><feGaussianBlur stdDeviation="0.9"/></filter>
<filter id="bob" x="-2%" y="-2%" width="104%" height="104%"><feGaussianBlur stdDeviation="0.5"/></filter>
</defs>
<g filter="url(#blb)"><g clip-path="url(#mb)">
<g clip-path="url(#tb0)">
<rect x="179" y="1559" width="522" height="522" fill="#0aaf14"/>
<path fill="#00e6af" d="M233.9,1715.8C233.9,1715.8 248.5,1719 254.9,1721.7C261.3,1724.5 267.4,1727.9 272.9,1732.2C278.3,1736.5 285.4,1744.1 290.8,1750.2C296.2,1756.4 300.8,1763.2 305.8,1769.7C310.8,1776.1 320.8,1788 322.3,1790.6C323.7,1793.3 322.3,1799.6 322.3,1799.6C322.3,1799.6 233.9,1799.6 233.9,1799.6C233.9,1799.6 233.9,1715.8 233.9,1715.8Z"/>
<path fill="#00e6af" d="M401.7,1949.4C402.8,1941.4 409.6,1933.4 413.6,1928.4C417.7,1923.5 423.3,1920 428.6,1916.4C433.9,1912.9 444.8,1906.9 449.6,1904.5C454.4,1902.1 459.7,1899.5 464.6,1898.5C469.5,1897.5 474.6,1897.8 479.5,1898.5C484.5,1899.1 499.6,1902 509.5,1904.5C519.4,1906.9 529.5,1910.2 539.4,1913.5C549.4,1916.7 559.5,1921 569.4,1923.9C579.3,1926.9 589.4,1929.3 599.4,1931.4C609.3,1933.6 619.4,1934.8 629.3,1936.8C639.3,1938.8 649.3,1941.5 659.3,1943.4C669.2,1945.3 679.3,1947.1 689.2,1948.2C699.2,1949.3 719.2,1950 719.2,1950C719.2,1950 719.2,2099.2 719.2,2099.2C719.2,2099.2 389.7,2099.2 389.7,2099.2C389.7,2099.2 400.5,1957.4 401.7,1949.4Z"/>
<path fill="#00e6af" d="M428.6,1624.4 451.1,1624.4 451.1,1642.4 428.6,1642.4Z"/>
<path fill="#00e6af" d="M479.5,1640.9C479.5,1640.9 479.3,1631.4 482.5,1628.9C485.8,1626.3 512.7,1613.6 515.5,1612.4C518.3,1611.2 524.5,1610.9 524.5,1610.9C524.5,1610.9 521.8,1619.9 518.5,1622.9C515.1,1625.9 503.2,1632.2 497.5,1634.9C491.8,1637.5 479.5,1640.9 479.5,1640.9Z"/>
<path fill="#00e6af" d="M623.3,1554C623.3,1554 707.2,1554 707.2,1554C707.2,1554 707.2,1569 707.2,1569C707.2,1569 679.3,1573.4 671.2,1575C663.2,1576.6 655.4,1580.7 647.3,1581C639.2,1581.2 623.3,1576.5 623.3,1576.5C623.3,1576.5 623.3,1554 623.3,1554Z"/>
<path fill="#a5e10f" d="M719.2,1587C719.2,1587 706.3,1587.5 700,1588.5C693.7,1589.4 669.4,1595.7 659.3,1595.9C649.1,1596.2 639.3,1590.5 629.3,1590C619.3,1589.5 609.3,1592 599.4,1592.9C589.4,1593.9 574.1,1594.2 569.4,1595.9C564.7,1597.7 563.4,1603.9 560.4,1607.9C557.4,1611.9 554.5,1616 551.4,1619.9C548.4,1623.8 544,1630.4 539.4,1634.9C534.9,1639.4 530.1,1643.9 524.5,1646.9C518.8,1649.9 504.3,1655.9 494.5,1658.8C484.8,1661.8 474.5,1663.3 464.6,1664.8C454.6,1666.3 442,1666.1 434.6,1667.8C427.2,1669.6 421.1,1675.3 413.6,1676.8C406.2,1678.3 385.7,1679.4 374.7,1679.8C363.7,1680.3 349.2,1678.6 341.7,1679.8C334.2,1681.1 326.3,1685.6 320.8,1688.8C315.3,1692 308.7,1697.4 305.8,1700.8C302.9,1704.1 300.3,1708.3 299.8,1712.8C299.3,1717.2 301.1,1723 302.8,1727.7C304.5,1732.5 307.8,1740.4 311.8,1745.7C315.8,1751.1 323.8,1757.7 329.8,1763.7C335.8,1769.7 343.1,1776.1 347.7,1781.7C352.3,1787.2 357.4,1794 359.7,1799.6C362.1,1805.2 362.7,1811.5 362.7,1817.6C362.7,1823.7 359.3,1833.2 359.7,1838.6C360.2,1843.9 362.1,1849.5 365.7,1853.5C369.3,1857.6 377.3,1862.1 383.7,1865.5C390,1868.9 397.7,1871.5 404.7,1874.5C411.6,1877.5 418.3,1881.5 425.6,1883.5C433,1885.5 441.5,1886.5 449.6,1886.5C457.6,1886.5 466.5,1883.5 473.5,1883.5C480.6,1883.5 487.5,1885.5 494.5,1886.5C501.5,1887.5 514.6,1888.8 524.5,1891C534.3,1893.2 544.4,1897 554.4,1900C564.4,1903 574.4,1906.2 584.4,1909C594.3,1911.7 604.3,1914 614.3,1916.4C624.3,1918.9 634.3,1921.7 644.3,1923.9C654.2,1926.2 665.7,1928.4 674.2,1929.9C682.8,1931.4 693.6,1933.1 700,1933.8C706.4,1934.5 719.2,1935 719.2,1935C719.2,1935 719.2,1587 719.2,1587Z"/>
<path fill="#ffe100" d="M719.2,1598.9C719.2,1598.9 706,1599.6 700,1601.9C694,1604.3 665.2,1619.9 665.2,1619.9C665.2,1619.9 657.7,1613.2 653.3,1610.9C648.8,1608.7 637.8,1602.9 629.3,1601.9C620.8,1601 605.8,1603.3 599.4,1604.9C592.9,1606.6 586.4,1609.9 581.4,1613.9C576.4,1617.9 573.7,1624.1 569.4,1628.9C565.1,1633.6 559.8,1639.4 554.4,1643.9C549,1648.4 540.8,1654.4 533.5,1658.8C526.1,1663.3 517.8,1667.6 509.5,1670.8C501.2,1674.1 489.4,1677.3 479.5,1679.8C469.7,1682.3 459.6,1683.8 449.6,1685.8C439.6,1687.8 429.6,1690.3 419.6,1691.8C409.7,1693.3 397.8,1693.4 389.7,1694.8C381.6,1696.1 372.9,1698.4 365.7,1700.8C358.5,1703.2 348.4,1707.6 344.7,1709.8C341.1,1711.9 335.8,1718.8 335.8,1718.8C335.8,1718.8 344,1724.5 347.7,1727.7C351.5,1731 356.2,1735.3 359.7,1739.7C363.2,1744.1 368.1,1751.4 371.7,1757.7C375.3,1763.9 381.6,1775.9 383.7,1781.7C385.7,1787.4 386.7,1793.6 386.7,1799.6C386.7,1805.7 383.2,1811.5 383.7,1817.6C384.2,1823.7 386.1,1830.4 389.7,1835.6C393.3,1840.7 399.3,1844 404.7,1847.6C410,1851.1 418.3,1856.1 425.6,1859.5C432.9,1862.9 443.7,1866.9 449.6,1868.5C455.4,1870.2 463.1,1872 467.6,1871.5C472,1871.1 475.1,1865.5 479.5,1865.5C484,1865.5 489.4,1870 494.5,1871.5C499.7,1873.1 514.6,1876 524.5,1879C534.3,1882 544.5,1886.3 554.4,1889.5C564.3,1892.7 574.4,1895.5 584.4,1898.5C594.4,1901.5 604.4,1904.7 614.3,1907.5C624.3,1910.2 634.3,1912.6 644.3,1914.9C654.2,1917.3 665.7,1920.1 674.2,1921.8C682.8,1923.5 693.6,1925.3 700,1926C706.4,1926.8 719.2,1927.2 719.2,1927.2C719.2,1927.2 719.2,1598.9 719.2,1598.9Z"/>
<path fill="#ffa000" d="M374.7,1745.7C374.7,1743.5 376.3,1741.4 377.7,1739.7C379.1,1738 385.5,1731.5 389.7,1727.7C393.9,1724 402.1,1716.5 407.6,1712.8C413.2,1709 419.6,1704.8 425.6,1703.8C431.6,1702.8 437.9,1704.6 443.6,1706.8C449.3,1709 457.8,1715.4 464.6,1718.8C471.4,1722.2 478.5,1724.9 485.5,1727.7C492.6,1730.6 504.2,1734.3 509.5,1736.7C514.8,1739.2 519.7,1742.4 524.5,1745.7C529.2,1749.1 536.6,1755.5 539.4,1757.7C542.3,1759.9 548.4,1763.7 548.4,1763.7C548.4,1763.7 557.4,1754.7 557.4,1754.7C557.4,1754.7 565.8,1755.7 569.4,1757.7C573,1759.7 574.8,1764.5 578.4,1766.7C582,1768.9 593.8,1772.4 599.4,1775.7C604.9,1778.9 611.4,1785.5 614.3,1787.6C617.2,1789.8 623.3,1793.6 623.3,1793.6C623.3,1793.6 633.2,1785.5 638.3,1781.7C643.4,1777.8 654.1,1770.5 659.3,1766.7C664.4,1762.8 669.5,1758 674.2,1754.7C679,1751.4 685.8,1747.3 689.2,1745.7C692.6,1744.1 696.3,1743.4 700,1742.7C703.7,1742 719.2,1739.7 719.2,1739.7C719.2,1739.7 719.2,1920.9 719.2,1920.9C719.2,1920.9 706.3,1920.2 700,1919.1C693.7,1918.1 682.8,1915.5 674.2,1913.5C665.7,1911.4 654.3,1908.5 644.3,1906C634.3,1903.5 624.3,1901.2 614.3,1898.5C604.4,1895.7 594.4,1892.5 584.4,1889.5C574.4,1886.5 564.3,1883.9 554.4,1880.5C544.6,1877.1 534.3,1872 524.5,1868.5C514.6,1865.1 499.6,1861.2 494.5,1859.5C489.4,1857.8 483.6,1854 479.5,1853.5C475.4,1853.1 471.7,1856.9 467.6,1856.5C463.5,1856.1 455.4,1853 449.6,1850.5C443.8,1848.1 437.4,1844.9 431.6,1841.6C425.8,1838.2 418.4,1833.9 413.6,1829.6C408.9,1825.3 405.2,1819.9 401.7,1814.6C398.1,1809.3 393.5,1800.7 389.7,1793.6C385.9,1786.5 380.1,1777.4 377.7,1769.7C375.3,1762 374.7,1747.9 374.7,1745.7Z"/>
<path fill="#ff3700" d="M398.7,1736.7C398.7,1736.7 408.6,1728.7 413.6,1727.7C418.6,1726.7 424.8,1728.8 428.6,1730.7C432.4,1732.6 435.7,1735.9 437.6,1739.7C439.5,1743.5 440.6,1754.7 440.6,1754.7C440.6,1754.7 449.6,1757.7 449.6,1757.7C449.6,1757.7 464.6,1739.7 464.6,1739.7C464.6,1739.7 475,1745.1 479.5,1748.7C484.1,1752.3 489.5,1758.7 494.5,1763.7C499.5,1768.7 505.2,1773.9 509.5,1778.7C513.8,1783.4 516.3,1790.5 521.5,1793.6C526.7,1796.8 533.6,1795 539.4,1796.6C545.3,1798.3 557.6,1804 563.4,1805.6C569.2,1807.3 576.9,1809.1 581.4,1808.6C585.8,1808.2 593.4,1802.6 593.4,1802.6C593.4,1802.6 597.4,1816.6 599.4,1823.6C601.3,1830.6 605.3,1844.6 605.3,1844.6C605.3,1844.6 617.3,1850 623.3,1850.5C629.4,1851.1 635.2,1847 641.3,1847.6C647.3,1848.1 654.4,1850.6 659.3,1853.5C664.1,1856.5 666.2,1863 671.2,1865.5C676.3,1868.1 683.2,1869.6 689.2,1868.5C695.2,1867.4 719.2,1856.5 719.2,1856.5C719.2,1856.5 719.2,1913.5 719.2,1913.5C719.2,1913.5 684.2,1906.5 674.2,1904.5C664.2,1902.5 654.2,1900.9 644.3,1898.5C634.4,1896 624.3,1892.5 614.3,1889.5C604.3,1886.5 594.2,1883.9 584.4,1880.5C574.5,1877.1 564.4,1872.5 554.4,1868.5C544.4,1864.5 531.5,1859.4 524.5,1856.5C517.4,1853.6 510.7,1850 503.5,1847.6C496.3,1845.1 483.8,1841.7 479.5,1841.6C475.3,1841.4 471.8,1846.1 467.6,1846.1C463.3,1846.1 455.4,1843.7 449.6,1841.6C443.8,1839.4 437,1836.5 431.6,1832.6C426.2,1828.6 421.1,1823.1 416.6,1817.6C412.2,1812.1 407.5,1806.2 404.7,1799.6C401.8,1793 399.4,1783.9 398.7,1775.7C397.9,1767.5 398.7,1736.7 398.7,1736.7Z"/>
<path fill="#ffe100" d="M653.3,1784.7C653.3,1784.7 657.8,1780.2 657.8,1780.2C657.8,1780.2 662.3,1784.7 662.3,1784.7C662.3,1784.7 657.8,1790.6 657.8,1790.6C657.8,1790.6 653.3,1784.7 653.3,1784.7Z"/>
</g>
<g clip-path="url(#tb1)">
<rect x="699" y="1559" width="522" height="522" fill="#ffa000"/>
<path fill="#ffe100" d="M694,1554C694,1554 1143.3,1554 1143.3,1554C1143.3,1554 1129.9,1564.5 1125.3,1569C1120.8,1573.5 1118.5,1580.3 1113.4,1584C1108.2,1587.6 1095.4,1590 1095.4,1590C1095.4,1590 1089.4,1575 1089.4,1575C1089.4,1575 1069.5,1571.5 1059.4,1572C1049.4,1572.5 1039.2,1575 1029.5,1578C1019.7,1580.9 1004,1587.7 999.5,1590C995.1,1592.2 991.1,1595.4 987.6,1598.9C984,1602.5 979.1,1610.4 975.6,1613.9C972,1617.4 963.6,1622.9 963.6,1622.9C963.6,1622.9 948.6,1616.9 948.6,1616.9C948.6,1616.9 942.6,1622.9 939.6,1625.9C936.6,1628.9 926,1639.1 921.7,1643.9C917.4,1648.6 914.9,1655.7 909.7,1658.8C904.5,1662 895.7,1661.4 891.7,1661.8C887.7,1662.2 883.7,1661.4 879.7,1661.8C875.8,1662.3 869.4,1662.7 864.7,1664.8C860.1,1666.9 849.8,1675.3 849.8,1675.3C849.8,1675.3 839.7,1668 834.8,1664.8C829.9,1661.7 825,1658.5 819.8,1655.9C814.6,1653.2 798.8,1646.9 798.8,1646.9C798.8,1646.9 785.4,1655.9 785.4,1655.9C785.4,1655.9 782.7,1639.1 780.9,1634.9C779.1,1630.7 776,1626.5 771.9,1624.4C767.8,1622.3 754.1,1620.4 747.9,1618.4C741.7,1616.4 736,1611.7 730,1610.9C723.9,1610.2 717.6,1611.6 712,1613.9C706.4,1616.3 694,1625.9 694,1625.9C694,1625.9 694,1554 694,1554Z"/>
<path fill="#ffe100" d="M694,1920C694,1920 698.1,1919.7 700,1919.1C701.9,1918.5 720,1912.5 730,1909C739.9,1905.4 750,1901.3 759.9,1897.9C769.8,1894.4 780.1,1890.1 789.9,1888C799.7,1885.9 809.8,1886 819.8,1885C829.8,1884 843.7,1883 849.8,1882C855.9,1881 861.9,1879.6 867.7,1877.5C873.5,1875.4 885.6,1869.3 894.7,1865.5C903.8,1861.7 914.7,1857.5 924.7,1853.5C934.6,1849.6 944.6,1845.6 954.6,1841.6C964.6,1837.6 974.8,1834 984.6,1829.6C994.4,1825.2 1004.5,1819.6 1014.5,1814.6C1024.5,1809.6 1034.5,1804.6 1044.5,1799.6C1054.5,1794.6 1064.6,1790 1074.4,1784.7C1084.2,1779.3 1094.8,1771.5 1104.4,1766.7C1114,1761.9 1124.5,1757.9 1134.3,1754.7C1144.1,1751.5 1154.4,1749.2 1164.3,1747.2C1174.2,1745.2 1184.2,1743.3 1194.2,1742.7C1204.3,1742.1 1227.2,1743.3 1227.2,1743.3C1227.2,1743.3 1227.2,2099.2 1227.2,2099.2C1227.2,2099.2 694,2099.2 694,2099.2C694,2099.2 694,1920 694,1920Z"/>
<path fill="#a5e10f" d="M694,1926.9C694,1926.9 698.1,1926.6 700,1926C701.9,1925.5 720,1920.1 730,1917C739.9,1914 750,1910.5 759.9,1907.5C769.9,1904.4 780,1900.7 789.9,1898.5C799.7,1896.3 809.8,1895.5 819.8,1894C829.8,1892.5 839.8,1891 849.8,1889.5C859.8,1888 870,1887.7 879.7,1885C889.5,1882.3 899.7,1877 909.7,1873C919.7,1869 929.6,1865 939.6,1861C949.6,1857 959.7,1853.3 969.6,1849.1C979.5,1844.8 989.6,1840.3 999.5,1835.6C1009.4,1830.9 1019.5,1825.6 1029.5,1820.6C1039.5,1815.6 1049.5,1810.6 1059.4,1805.6C1069.4,1800.6 1079.5,1795.3 1089.4,1790.6C1099.3,1785.9 1109.6,1780.9 1119.4,1777.2C1129.1,1773.5 1139.4,1770.5 1149.3,1767.9C1159.2,1765.3 1171.3,1762.6 1179.3,1761.3C1187.2,1760 1195.2,1759.1 1203.2,1758.9C1211.2,1758.6 1227.2,1759.8 1227.2,1759.8C1227.2,1759.8 1227.2,2099.2 1227.2,2099.2C1227.2,2099.2 694,2099.2 694,2099.2C694,2099.2 694,1926.9 694,1926.9Z"/>
<path fill="#0aaf14" d="M694,1934.4C694,1934.4 698.1,1934.3 700,1933.8C701.9,1933.3 720,1928.3 730,1925.4C739.9,1922.5 749.9,1919.3 759.9,1916.4C769.9,1913.6 780,1910.3 789.9,1908.1C799.7,1905.8 809.8,1904.7 819.8,1903C829.8,1901.3 839.8,1899.6 849.8,1897.9C859.7,1896.1 869.9,1895.1 879.7,1892.5C889.5,1889.9 899.8,1885.7 909.7,1882C919.6,1878.3 929.6,1874 939.6,1870C949.6,1866 959.7,1862.2 969.6,1858C979.5,1853.8 989.6,1849.3 999.5,1844.6C1009.4,1839.9 1019.5,1834.6 1029.5,1829.6C1039.5,1824.6 1049.5,1819.6 1059.4,1814.6C1069.4,1809.6 1079.8,1803 1089.4,1799.6C1099,1796.3 1109.4,1796 1119.4,1793.6C1129.3,1791.3 1139.3,1787.9 1149.3,1785.3C1159.3,1782.6 1171.3,1779.4 1179.3,1777.5C1187.2,1775.5 1195.3,1773.1 1203.2,1772.1C1211.1,1771 1227.2,1771.2 1227.2,1771.2C1227.2,1771.2 1227.2,2099.2 1227.2,2099.2C1227.2,2099.2 694,2099.2 694,2099.2C694,2099.2 694,1934.4 694,1934.4Z"/>
<path fill="#00e6af" d="M694,1950.3C694,1950.3 698,1949.9 700,1949.4C702,1948.9 720,1943.9 730,1941C739.9,1938.1 749.9,1935 759.9,1932C769.9,1929 779.9,1925.8 789.9,1923C799.8,1920.3 809.8,1918 819.8,1915.5C829.8,1913.1 839.8,1910.6 849.8,1908.1C859.8,1905.6 869.8,1903.4 879.7,1900.6C889.6,1897.8 899.7,1894.3 909.7,1891C919.6,1887.7 929.7,1884.2 939.6,1880.5C949.5,1876.8 959.6,1872.5 969.6,1868.5C979.6,1864.5 989.6,1860.7 999.5,1856.5C1009.4,1852.3 1019.5,1847.6 1029.5,1843.1C1039.5,1838.6 1049.6,1833.5 1059.4,1829.6C1069.3,1825.7 1079.6,1821.6 1089.4,1819.1C1099.2,1816.5 1109.4,1815.9 1119.4,1814C1129.3,1812.1 1139.3,1809.5 1149.3,1807.4C1159.3,1805.3 1171.2,1803.4 1179.3,1801.4C1187.3,1799.5 1195.3,1795.9 1203.2,1794.5C1211.1,1793.2 1227.2,1793 1227.2,1793C1227.2,1793 1227.2,2099.2 1227.2,2099.2C1227.2,2099.2 694,2099.2 694,2099.2C694,2099.2 694,1950.3 694,1950.3Z"/>
<path fill="#00a5fa" d="M1026.5,1937.4C1026.5,1937.4 1031.7,1921.6 1035.5,1916.4C1039.2,1911.3 1044.9,1907.5 1050.5,1904.5C1056,1901.4 1062.1,1899 1068.4,1898.5C1074.7,1898 1084,1901.9 1089.4,1901.5C1094.8,1901 1099.1,1896.6 1104.4,1895.5C1109.6,1894.4 1121.1,1893.6 1125.3,1894C1129.6,1894.4 1137.3,1898.5 1137.3,1898.5C1137.3,1898.5 1137.2,1907.5 1134.3,1910.5C1131.4,1913.4 1124.6,1915.4 1119.4,1916.4C1114.1,1917.5 1099.1,1916.7 1089.4,1919.4C1079.7,1922.1 1050.2,1935.8 1044.5,1937.4C1038.7,1939.1 1026.5,1937.4 1026.5,1937.4Z"/>
<path fill="#00a5fa" d="M1019,1898.5C1019,1898.5 1026.5,1891.9 1026.5,1891.9C1026.5,1891.9 1033.1,1898.5 1033.1,1898.5C1033.1,1898.5 1026.5,1905.1 1026.5,1905.1C1026.5,1905.1 1019,1898.5 1019,1898.5Z"/>
<path fill="#a5e10f" d="M694,1554C694,1554 945.6,1554 945.6,1554C945.6,1554 930,1562.4 924.7,1566C919.3,1569.5 914.8,1574.2 909.7,1578C904.5,1581.7 896.1,1586.4 891.7,1590C887.3,1593.5 884.9,1599.7 879.7,1601.9C874.5,1604.2 859.8,1607.4 849.8,1607.9C839.7,1608.4 827.6,1608.3 819.8,1604.9C812.1,1601.5 805.3,1589.7 801.8,1587C798.4,1584.2 789.9,1581 789.9,1581C789.9,1581 787.4,1590.3 783.9,1592.9C780.3,1595.6 772.1,1599.8 765.9,1598.9C759.6,1598 749.8,1588.4 741.9,1587C734,1585.5 725.9,1588.9 718,1590C710,1591.1 694,1593.5 694,1593.5C694,1593.5 694,1554 694,1554Z"/>
<path fill="#0aaf14" d="M694,1554C694,1554 771.9,1554 771.9,1554C771.9,1554 754.4,1567.3 744.9,1572C735.5,1576.7 721.9,1580.4 715,1582.5C708.1,1584.6 694,1587.6 694,1587.6C694,1587.6 694,1554 694,1554Z"/>
<path fill="#ffe100" d="M694,1688.8C694,1688.8 705.4,1690.8 709,1694.8C712.6,1698.8 717,1708.8 718,1715.8C719,1722.7 715,1736.7 715,1736.7C715,1736.7 701.9,1742.2 700,1742.7C698.1,1743.3 694,1742.7 694,1742.7C694,1742.7 694,1688.8 694,1688.8Z"/>
<path fill="#ffe100" d="M764.4,1706.8C764.4,1706.8 770.7,1696.2 774.9,1691.8C779.1,1687.4 785.2,1682.9 789.9,1679.8C794.5,1676.8 804.8,1672.3 804.8,1672.3C804.8,1672.3 809.2,1681.4 807.8,1685.8C806.4,1690.2 800.3,1696.6 795.9,1700.8C791.4,1705 784.6,1709.6 780.9,1711.3C777.2,1712.9 768.9,1712.8 768.9,1712.8C768.9,1712.8 764.4,1706.8 764.4,1706.8Z"/>
<path fill="#ffe100" d="M1044.5,1590C1044.5,1590 1054.9,1583.4 1054.9,1583.4C1054.9,1583.4 1062.4,1590 1062.4,1590C1062.4,1590 1054.9,1596.5 1054.9,1596.5C1054.9,1596.5 1044.5,1590 1044.5,1590Z"/>
<path fill="#ffe100" d="M1140.3,1554C1140.3,1554 1140.8,1566.9 1143.3,1572C1145.8,1577 1153,1581.2 1155.3,1584C1157.6,1586.7 1161.3,1592.9 1161.3,1592.9C1161.3,1592.9 1165.4,1583 1167.3,1578C1169.1,1572.9 1172.8,1561.9 1173.3,1560C1173.8,1558.1 1173.3,1554 1173.3,1554C1173.3,1554 1140.3,1554 1140.3,1554Z"/>
<path fill="#ff3700" d="M876.7,1703.8 882.7,1685.8 897.7,1681.3 915.7,1682.8 930.6,1694.8 939.6,1673.8 939.6,1640.9 948.6,1634.9 963.6,1637.9 978.6,1625.9 990.5,1637.9 996.5,1655.9 1014.5,1661.8 1035.5,1664.8 1056.4,1664.8 1065.4,1679.8 1071.4,1703.8 1077.4,1724.7 1083.4,1739.7 1074.4,1757.7 1059.4,1742.7 1035.5,1736.7 1023.5,1751.7 1020.5,1775.7 1026.5,1796.6 1014.5,1802.6 993.5,1808.6 978.6,1802.6 963.6,1817.6 948.6,1808.6 933.6,1817.6 930.6,1832.6 909.7,1834.1 909.7,1817.6 891.7,1799.6 873.7,1793.6 846.8,1790.6 843.8,1784.7 864.7,1775.7 879.7,1766.7 891.7,1751.7 900.7,1747.2 915.7,1760.7 933.6,1757.7 939.6,1739.7 930.6,1727.7 915.7,1721.7 894.7,1727.7 879.7,1718.8Z"/>
<path fill="#ffa000" d="M936.6,1724.7C936.6,1724.7 944.1,1715.8 944.1,1715.8C944.1,1715.8 951.6,1724.1 951.6,1724.1C951.6,1724.1 944.1,1733.1 944.1,1733.1C944.1,1733.1 936.6,1724.7 936.6,1724.7Z"/>
<path fill="#ffa000" d="M891.7,1787.6C891.7,1787.6 897.7,1782.3 897.7,1782.3C897.7,1782.3 904.3,1787.6 904.3,1787.6C904.3,1787.6 897.7,1793 897.7,1793C897.7,1793 891.7,1787.6 891.7,1787.6Z"/>
<path fill="#ff3700" d="M1227.2,1627.4C1227.2,1627.4 1222.3,1628.2 1220,1628.9C1217.7,1629.6 1208.3,1631.8 1203.2,1634.9C1198.1,1638 1190.8,1644.3 1185.2,1649.9C1179.7,1655.4 1174,1662.3 1170.3,1667.8C1166.6,1673.4 1162.5,1679.9 1161.3,1685.8C1160.1,1691.7 1159.7,1698.6 1162.8,1703.8C1165.9,1708.9 1173.5,1712.3 1179.3,1715.8C1185,1719.2 1191.1,1722 1197.2,1724.7C1203.4,1727.4 1217.7,1732.9 1220,1733.7C1222.3,1734.5 1227.2,1735.2 1227.2,1735.2C1227.2,1735.2 1227.2,1627.4 1227.2,1627.4Z"/>
<path fill="#c30028" d="M1227.2,1678.3C1227.2,1678.3 1222.1,1678.6 1220,1679.8C1217.9,1681 1211.5,1685.4 1209.2,1688.8C1206.9,1692.2 1205.8,1696.7 1206.2,1700.8C1206.7,1704.9 1210.4,1713 1212.2,1715.8C1214,1718.5 1217.8,1720.7 1220,1721.7C1222.2,1722.8 1227.2,1723.2 1227.2,1723.2C1227.2,1723.2 1227.2,1678.3 1227.2,1678.3Z"/>
<path fill="#ff3700" d="M1122.3,1723.2C1123.7,1718.9 1128.2,1716.1 1131.3,1712.8C1134.5,1709.4 1141.8,1702.3 1141.8,1702.3C1141.8,1702.3 1149.3,1706.8 1149.3,1706.8C1149.3,1706.8 1149,1717.5 1146.3,1721.7C1143.7,1726 1137.7,1728.5 1134.3,1730.7C1131,1733 1123.8,1736.7 1123.8,1736.7C1123.8,1736.7 1121,1727.6 1122.3,1723.2Z"/>
<path fill="#ff3700" d="M694,1847.6C694,1847.6 713,1854 718,1853.5C722.9,1853.1 727,1847.9 730,1844.6C732.9,1841.2 735.9,1832.6 735.9,1832.6C735.9,1832.6 742.7,1837.9 744.9,1841.6C747.1,1845.2 751.9,1853.4 752.4,1859.5C752.9,1865.7 751.3,1872.3 747.9,1877.5C744.6,1882.7 738.1,1885.7 732.9,1889.5C727.8,1893.2 721.6,1898.7 715,1901.5C708.4,1904.3 694,1906 694,1906C694,1906 694,1847.6 694,1847.6Z"/>
<path fill="#ff3700" d="M1209.2,1588.5C1209.2,1588.5 1217.6,1585.7 1220,1585.5C1222.4,1585.3 1227.2,1587 1227.2,1587C1227.2,1587 1227.2,1598.9 1227.2,1598.9C1227.2,1598.9 1215.2,1598.9 1215.2,1598.9C1215.2,1598.9 1209.2,1588.5 1209.2,1588.5Z"/>
</g>
<g clip-path="url(#tb2)">
<rect x="1219" y="1559" width="522" height="522" fill="#ffe100"/>
<path fill="#ffa000" d="M1214,1554C1214,1554 1324.8,1554 1324.8,1554C1324.8,1554 1333.8,1567.5 1336.8,1575C1339.8,1582.5 1341.4,1592 1342.8,1598.9C1344.2,1605.9 1344.1,1615.2 1345.8,1619.9C1347.5,1624.6 1351.3,1628.4 1354.8,1631.9C1358.3,1635.4 1365.8,1640.8 1369.8,1643.9C1373.7,1646.9 1376.9,1651.8 1381.7,1652.9C1386.6,1653.9 1392.5,1652.5 1396.7,1649.9C1401,1647.2 1403.9,1640 1405.7,1637.9C1407.5,1635.7 1411.7,1631.9 1411.7,1631.9C1411.7,1631.9 1416.4,1637.5 1417.7,1640.9C1419,1644.2 1419.4,1652.5 1420.7,1655.9C1422,1659.2 1426.7,1664.8 1426.7,1664.8C1426.7,1664.8 1432.9,1659.1 1435.7,1655.9C1438.4,1652.6 1442.7,1646.4 1444.7,1643.9C1446.6,1641.3 1447.7,1637.6 1450.6,1636.4C1453.6,1635.2 1468.8,1631.2 1474.6,1631.9C1480.4,1632.6 1489.6,1640.9 1489.6,1640.9C1489.6,1640.9 1489.6,1649.9 1489.6,1649.9C1489.6,1649.9 1447.6,1649.9 1447.6,1649.9C1447.6,1649.9 1447.6,1691.8 1447.6,1691.8C1447.6,1691.8 1429.7,1691.8 1429.7,1691.8C1429.7,1691.8 1429.7,1724.7 1429.7,1724.7C1429.7,1724.7 1419.3,1728 1414.7,1730.7C1410.1,1733.5 1405.8,1740 1400,1742.4C1394.3,1744.8 1379,1747.2 1374.9,1747.5C1370.7,1747.8 1366.3,1747 1362.6,1745.1C1358.9,1743.2 1355.2,1736.3 1350,1734.9C1344.8,1733.5 1333.2,1734.1 1324.8,1734.9C1316.5,1735.8 1308.2,1738.6 1300,1740C1291.7,1741.5 1283.4,1742.4 1275.1,1743.6C1266.8,1744.9 1258.3,1747.5 1250,1747.5C1241.6,1747.5 1228.8,1744.1 1225.1,1743.6C1221.4,1743.2 1214,1743 1214,1743C1214,1743 1214,1554 1214,1554Z"/>
<path fill="#ffe100" d="M1378.8,1703.8C1378.8,1703.8 1383.6,1695.4 1387.7,1693.3C1391.9,1691.2 1398,1690 1402.7,1691.8C1407.4,1693.6 1412.4,1698.6 1414.7,1703.8C1417,1708.9 1417.8,1715.9 1416.2,1721.7C1414.6,1727.5 1405.7,1736.7 1405.7,1736.7C1405.7,1736.7 1399.3,1733.3 1396.7,1730.7C1394.2,1728.2 1390.5,1722.9 1387.7,1718.8C1385,1714.6 1378.8,1703.8 1378.8,1703.8Z"/>
<path fill="#ff3700" d="M1214,1622.9C1214,1622.9 1228,1620.2 1235,1619.9C1242,1619.7 1249.6,1619.9 1255.9,1621.4C1262.3,1622.9 1268.4,1625.6 1273.9,1628.9C1279.4,1632.1 1284.1,1637.5 1288.9,1640.9C1293.7,1644.2 1299.1,1647.5 1303.9,1649.9C1308.7,1652.3 1314.4,1652.9 1318.8,1655.9C1323.3,1658.8 1329.6,1666.2 1330.8,1667.8C1332.1,1669.5 1332.3,1673.8 1332.3,1673.8C1332.3,1673.8 1318.8,1672.3 1318.8,1672.3C1318.8,1672.3 1313.3,1676.6 1312.9,1679.8C1312.4,1683 1314.1,1690.4 1315.9,1694.8C1317.6,1699.2 1322.8,1702.5 1323.3,1706.8C1323.9,1711 1322.1,1716 1318.8,1718.8C1315.6,1721.5 1309.1,1723 1303.9,1723.2C1298.7,1723.5 1291.1,1720 1285.9,1720.3C1280.7,1720.5 1275.9,1723.3 1270.9,1724.7C1265.9,1726.2 1255.9,1729.1 1250,1730.7C1244,1732.3 1237.9,1734.2 1232,1735.2C1226.1,1736.2 1214,1736.7 1214,1736.7C1214,1736.7 1214,1622.9 1214,1622.9Z"/>
<path fill="#c30028" d="M1214,1676.8C1214,1676.8 1235,1672.3 1235,1672.3C1235,1672.3 1241.5,1683.2 1244,1685.8C1246.4,1688.5 1249.4,1691.1 1252.9,1691.8C1256.5,1692.5 1267.9,1690.3 1267.9,1690.3C1267.9,1690.3 1264.9,1703.8 1264.9,1703.8C1264.9,1703.8 1254.4,1706.8 1250,1709.8C1245.5,1712.8 1241.5,1719.8 1238,1721.7C1234.5,1723.7 1230,1723.2 1226,1723.2C1222,1723.2 1214,1721.7 1214,1721.7C1214,1721.7 1214,1676.8 1214,1676.8Z"/>
<path fill="#ff3700" d="M1232,1703.8C1232,1703.8 1238,1696.3 1238,1696.3C1238,1696.3 1245.5,1706.8 1245.5,1706.8C1245.5,1706.8 1238,1715.8 1238,1715.8C1238,1715.8 1232,1703.8 1232,1703.8Z"/>
<path fill="#a5e10f" d="M1214,1760.1C1214,1760.1 1239.9,1763.7 1250,1763.7C1260,1763.7 1271.9,1760.6 1279.9,1760.1C1287.9,1759.6 1300.6,1759.2 1303.9,1760.1C1307.1,1761 1309.9,1768.2 1309.9,1768.2C1309.9,1768.2 1333.8,1766.7 1333.8,1766.7C1333.8,1766.7 1333.8,1979.4 1333.8,1979.4C1333.8,1979.4 1214,1979.4 1214,1979.4C1214,1979.4 1214,1760.1 1214,1760.1Z"/>
<path fill="#0aaf14" d="M1214,1771.2C1214,1771.2 1231.8,1771.6 1238,1772.7C1244.2,1773.8 1250.6,1776.3 1255.9,1778.7C1261.2,1781.1 1266.7,1786.1 1270.9,1787.6C1275.2,1789.2 1279.9,1788.8 1284.4,1789.1C1288.9,1789.5 1309.9,1790.6 1309.9,1790.6C1309.9,1790.6 1309.9,1979.4 1309.9,1979.4C1309.9,1979.4 1214,1979.4 1214,1979.4C1214,1979.4 1214,1771.2 1214,1771.2Z"/>
<path fill="#00e6af" d="M1214,1793.6C1214,1793.6 1226.8,1796 1232,1799.6C1237.2,1803.2 1239.6,1810.7 1244,1814.6C1248.3,1818.5 1253.5,1821.5 1258.9,1823.6C1264.4,1825.6 1272.9,1826.6 1279.9,1828.1C1286.9,1829.6 1295.7,1832.5 1303.9,1833.2C1312,1833.8 1345.8,1833.2 1345.8,1833.2C1345.8,1833.2 1345.8,1979.4 1345.8,1979.4C1345.8,1979.4 1214,1979.4 1214,1979.4C1214,1979.4 1214,1793.6 1214,1793.6Z"/>
</g>
<g clip-path="url(#tb3)">
<rect x="699" y="1339" width="522" height="242" fill="#0aaf14"/>
<path fill="#00e6af" d="M694,1540.7C694,1540.7 786.9,1540.7 786.9,1540.7C786.9,1540.7 786.9,1531.7 786.9,1531.7C786.9,1531.7 768,1539.9 759.9,1543.7C751.8,1547.5 743.9,1551.7 735.9,1555.7C728,1559.7 718,1564.7 712,1567.6C706,1570.6 694,1576.6 694,1576.6C694,1576.6 694,1540.7 694,1540.7Z"/>
<path fill="#00e6af" d="M801.8,1507.7C804.3,1503.4 810.5,1496.5 816.8,1495.8C823.2,1495.1 901.2,1496.9 909.7,1495.8C918.2,1494.6 925.2,1485.3 930.6,1480.8C936.1,1476.3 938.9,1467.9 945.6,1465.8C952.4,1463.7 978.6,1465.8 978.6,1465.8C978.6,1465.8 978.5,1476.7 981.6,1480.8C984.6,1484.9 993.9,1486.6 996.5,1489.8C999.2,1492.9 999.5,1501.7 999.5,1501.7C999.5,1501.7 991.6,1505.3 987.6,1504.7C983.5,1504.2 980,1498.8 975.6,1498.8C971.1,1498.8 967,1501.8 963.6,1504.7C960.2,1507.7 958,1514.3 954.6,1516.7C951.3,1519.1 946.7,1520.2 942.6,1519.7C938.5,1519.3 932.9,1514.7 927.6,1513.7C922.4,1512.8 909.7,1513.7 909.7,1513.7C909.7,1513.7 906.7,1501.7 906.7,1501.7C906.7,1501.7 895.9,1510 891.7,1513.7C887.5,1517.5 883.3,1523 879.7,1525.7C876.1,1528.4 872.1,1531 867.7,1531.7C863.3,1532.4 850,1532.6 843.8,1531.7C837.5,1530.8 832,1527 825.8,1525.7C819.6,1524.4 801.8,1522.7 801.8,1522.7C801.8,1522.7 799.4,1512.1 801.8,1507.7Z"/>
<path fill="#00e6af" d="M888.7,1527.2C888.7,1527.2 897.7,1518.2 897.7,1518.2C897.7,1518.2 906.7,1525.7 906.7,1525.7C906.7,1525.7 899.2,1533.2 899.2,1533.2C899.2,1533.2 888.7,1527.2 888.7,1527.2Z"/>
<path fill="#a5e10f" d="M730,1588.6C730,1588.6 735.5,1582.3 738.9,1579.9C742.4,1577.5 752.4,1570.8 759.9,1567.6C767.4,1564.5 780,1561.1 789.9,1558.7C799.7,1556.2 809.9,1554.2 819.8,1552.7C829.7,1551.2 839.8,1550.7 849.8,1549.7C859.8,1548.7 869.7,1547.7 879.7,1546.7C889.7,1545.7 899.7,1544.7 909.7,1543.7C919.7,1542.7 929.7,1541.4 939.6,1540.7C949.6,1539.9 965.4,1539.8 969.6,1539.2C973.8,1538.6 977.8,1536.8 981.6,1534.7C985.3,1532.6 989.7,1528.4 993.5,1525.7C997.4,1523 1001,1519.5 1005.5,1518.2C1010,1516.9 1021.4,1515.2 1029.5,1515.2C1037.5,1515.2 1053.5,1517.7 1059.4,1518.2C1065.4,1518.8 1071.4,1520.2 1077.4,1519.7C1083.4,1519.2 1089.3,1516.1 1095.4,1515.2C1101.5,1514.4 1119.4,1513.7 1119.4,1513.7C1119.4,1513.7 1119.4,1471.8 1119.4,1471.8C1119.4,1471.8 1239.2,1471.8 1239.2,1471.8C1239.2,1471.8 1239.2,1588.6 1239.2,1588.6C1239.2,1588.6 730,1588.6 730,1588.6Z"/>
<path fill="#ffe100" d="M903.7,1588.6C903.7,1588.6 907,1582.2 909.7,1579.9C912.3,1577.6 921.1,1570.8 927.6,1567.6C934.2,1564.5 945.7,1561.1 954.6,1558.7C963.5,1556.2 976.4,1555 981.6,1552.7C986.7,1550.3 989.1,1544.2 993.5,1540.7C998,1537.2 1003.1,1533.7 1008.5,1531.7C1014,1529.7 1026.5,1528.7 1026.5,1528.7C1026.5,1528.7 1023.5,1543.7 1023.5,1543.7C1023.5,1543.7 1037.4,1548 1044.5,1549.7C1051.5,1551.3 1068.9,1553.8 1074.4,1555.7C1079.9,1557.5 1084.6,1561.3 1089.4,1564.7C1094.2,1568 1101.4,1573.3 1104.4,1576.6C1107.3,1580 1110.4,1588.6 1110.4,1588.6C1110.4,1588.6 903.7,1588.6 903.7,1588.6Z"/>
<path fill="#ffe100" d="M1138.8,1471.8C1138.8,1471.8 1138.9,1493.1 1140.3,1498.8C1141.7,1504.4 1146.5,1509.6 1149.3,1513.7C1152.1,1517.9 1156.8,1523.7 1158.3,1525.7C1159.8,1527.7 1162.8,1531.7 1162.8,1531.7C1162.8,1531.7 1158.3,1540 1155.3,1543.7C1152.3,1547.3 1147.1,1551.4 1143.3,1555.7C1139.6,1559.9 1134.9,1567.1 1131.3,1570.6C1127.8,1574.2 1121.4,1577.2 1119.4,1579.6C1117.3,1582.1 1116.4,1588.6 1116.4,1588.6C1116.4,1588.6 1239.2,1588.6 1239.2,1588.6C1239.2,1588.6 1239.2,1471.8 1239.2,1471.8C1239.2,1471.8 1138.8,1471.8 1138.8,1471.8Z"/>
<path fill="#ffa000" d="M1186.7,1471.8C1186.7,1471.8 1187.7,1493.7 1188.2,1498.8C1188.8,1503.8 1189.8,1509.5 1191.2,1513.7C1192.7,1518 1194.9,1521.9 1197.2,1525.7C1199.6,1529.5 1205.2,1533.7 1206.2,1537.7C1207.2,1541.7 1205.9,1546.5 1203.2,1549.7C1200.6,1552.8 1195.2,1553.7 1191.2,1555.7C1187.2,1557.7 1183.3,1559.7 1179.3,1561.7C1175.3,1563.7 1171.7,1567.6 1167.3,1567.6C1162.8,1567.6 1155.6,1561.7 1149.3,1561.7C1143,1561.7 1135.8,1565.4 1131.3,1567.6C1126.9,1569.9 1122.3,1573.2 1119.4,1576.6C1116.4,1580 1113.4,1588.6 1113.4,1588.6C1113.4,1588.6 1239.2,1588.6 1239.2,1588.6C1239.2,1588.6 1239.2,1459.8 1239.2,1459.8C1239.2,1459.8 1203.2,1459.8 1203.2,1459.8C1203.2,1459.8 1203.2,1471.8 1203.2,1471.8C1203.2,1471.8 1186.7,1471.8 1186.7,1471.8Z"/>
</g>
<g clip-path="url(#tb4)">
<rect x="1219" y="1339" width="522" height="242" fill="#ffe100"/>
<path fill="#ffa000" d="M1214,1471.8C1214,1471.8 1273.9,1471.8 1282.9,1471.8C1291.9,1471.8 1300.9,1472.5 1309.9,1471.8C1318.8,1471.1 1339.8,1467.3 1339.8,1467.3C1339.8,1467.3 1342.8,1471.8 1342.8,1471.8C1342.8,1471.8 1334.6,1479.6 1330.8,1483.8C1327.1,1488 1319.9,1492.4 1318.8,1498.8C1317.8,1505.1 1323.4,1512.6 1324.8,1519.7C1326.3,1526.8 1326.3,1535.8 1327.8,1543.7C1329.3,1551.6 1332,1560.6 1333.8,1567.6C1335.7,1574.7 1339.8,1588.6 1339.8,1588.6C1339.8,1588.6 1214,1588.6 1214,1588.6C1214,1588.6 1214,1471.8 1214,1471.8Z"/>
<path fill="#ff3700" d="M1247,1528.1C1247,1528.1 1267.9,1527.2 1267.9,1527.2C1267.9,1527.2 1267.9,1533.2 1267.9,1533.2C1267.9,1533.2 1247,1534.1 1247,1534.1C1247,1534.1 1247,1528.1 1247,1528.1Z"/>
<path fill="#a5e10f" d="M1426.7,1367C1426.7,1367 1437.8,1366 1443.2,1367C1448.6,1368 1495.7,1377.9 1507.6,1381.9C1519.4,1385.9 1534.6,1395 1540.5,1399.9C1546.4,1404.8 1552.5,1419.4 1552.5,1419.4C1552.5,1419.4 1542.3,1426.2 1537.5,1428.4C1532.8,1430.5 1527.7,1433.1 1522.5,1432.9C1517.3,1432.6 1512,1429.8 1507.6,1426.9C1503.1,1423.9 1499.3,1418.2 1495.6,1414.9C1491.8,1411.6 1487.9,1408.5 1483.6,1405.9C1479.3,1403.3 1471.9,1399.3 1465.6,1396.9C1459.4,1394.5 1449.2,1393 1444.7,1390.9C1440.1,1388.9 1435.7,1385.9 1432.7,1381.9C1429.7,1377.9 1426.7,1367 1426.7,1367Z"/>
<path fill="#a5e10f" d="M1405.7,1438.8C1406.2,1434.8 1408.7,1430.1 1411.7,1426.9C1414.7,1423.6 1421.1,1418.7 1426.7,1416.4C1432.3,1414.1 1438.6,1412.9 1444.7,1413.4C1450.7,1413.9 1459.5,1417.3 1465.6,1419.4C1471.8,1421.5 1478.4,1424.3 1483.6,1426.9C1488.8,1429.5 1493.8,1432.5 1498.6,1435.9C1503.3,1439.2 1508.6,1443.8 1513.5,1447.8C1518.5,1451.8 1523.8,1455.5 1528.5,1459.8C1533.3,1464.1 1539.5,1470.8 1543.5,1474.8C1547.5,1478.8 1552.8,1483.9 1555.5,1486.8C1558.1,1489.6 1563,1495.8 1563,1495.8C1563,1495.8 1558.5,1503.2 1558.5,1503.2C1558.5,1503.2 1548.3,1500.7 1543.5,1498.8C1538.7,1496.8 1531.4,1492.2 1525.5,1489.8C1519.7,1487.3 1513.5,1485.5 1507.6,1483.8C1501.6,1482 1495.6,1480.5 1489.6,1479.3C1483.5,1478.1 1475.6,1477 1468.6,1476.3C1461.6,1475.5 1453.8,1476 1447.6,1474.8C1441.4,1473.6 1434.1,1471 1429.7,1468.8C1425.2,1466.6 1420.9,1462.6 1417.7,1459.8C1414.5,1457.1 1410.7,1454.4 1408.7,1450.8C1406.7,1447.3 1405.2,1442.9 1405.7,1438.8Z"/>
<path fill="#a5e10f" d="M1386.2,1504.7C1386.2,1500.9 1388.5,1496.5 1390.7,1494.3C1393,1492 1399.7,1491.3 1399.7,1491.3C1399.7,1491.3 1405.9,1495.5 1407.2,1498.8C1408.5,1502 1408.5,1507.4 1407.2,1510.7C1405.9,1514 1402.6,1517.2 1399.7,1518.2C1396.9,1519.3 1390.7,1516.7 1390.7,1516.7C1390.7,1516.7 1386.2,1508.5 1386.2,1504.7Z"/>
<path fill="#a5e10f" d="M1567.5,1465.8C1567.5,1465.8 1572.9,1460.1 1576.4,1459.8C1580,1459.6 1589.9,1464.3 1589.9,1464.3C1589.9,1464.3 1591.4,1474.8 1591.4,1474.8C1591.4,1474.8 1582.8,1478 1579.4,1477.8C1576.1,1477.5 1572.4,1475.2 1570.5,1473.3C1568.6,1471.4 1567.5,1465.8 1567.5,1465.8Z"/>
<path fill="#a5e10f" d="M1591.4,1482.3C1591.4,1482.3 1601.2,1476.5 1606.4,1476.3C1611.6,1476 1616.6,1478.6 1621.4,1480.8C1626.1,1482.9 1636.4,1489.8 1636.4,1489.8C1636.4,1489.8 1636.4,1498.8 1636.4,1498.8C1636.4,1498.8 1626.1,1505.6 1621.4,1507.7C1616.6,1509.9 1606.4,1512.2 1606.4,1512.2C1606.4,1512.2 1602.6,1503.2 1600.4,1498.8C1598.2,1494.4 1591.4,1482.3 1591.4,1482.3Z"/>
<path fill="#a5e10f" d="M1549.5,1531.7C1549.5,1531.7 1554.5,1524.3 1558.5,1522.7C1562.4,1521.1 1574.2,1519.5 1579.4,1519.7C1584.7,1519.9 1594.4,1524.2 1594.4,1524.2C1594.4,1524.2 1597.4,1534.7 1597.4,1534.7C1597.4,1534.7 1592.3,1542 1588.4,1543.7C1584.6,1545.4 1576.4,1546.2 1570.5,1546.7C1564.5,1547.2 1552.5,1546.7 1552.5,1546.7C1552.5,1546.7 1549.5,1531.7 1549.5,1531.7Z"/>
</g>
<g clip-path="url(#tb5)">
<rect x="439" y="1459" width="522" height="242" fill="#ffe100"/>
<path fill="#a5e10f" d="M434,1684.7C434,1684.7 438,1683.7 440,1683.2C442,1682.7 460,1678.4 470,1675.7C479.9,1672.9 491.6,1669.9 499.9,1666.7C508.2,1663.4 516.8,1658.5 523.9,1654.7C531,1650.9 539.2,1647 544.8,1642.7C550.5,1638.5 555.1,1633 559.8,1627.7C564.6,1622.5 570.5,1613.7 574.8,1609.8C579.1,1605.9 584.3,1602.8 589.8,1600.8C595.2,1598.8 601.7,1597.8 607.7,1597.8C613.8,1597.8 620,1598.9 625.7,1600.8C631.5,1602.7 639.1,1606.5 643.7,1609.8C648.3,1613 655.7,1621.7 655.7,1621.7C655.7,1621.7 663,1613 667.6,1609.8C672.3,1606.5 679.3,1603 685.6,1600.8C691.9,1598.5 704.6,1595.9 709.6,1594.8C714.5,1593.6 719.5,1591.8 724.6,1591.8C729.7,1591.8 734.6,1593.5 739.5,1594.8C744.4,1596.1 753.4,1600.4 757.5,1600.8C761.6,1601.2 766.2,1600.3 769.5,1597.8C772.7,1595.3 784.5,1579.8 784.5,1579.8C784.5,1579.8 794.7,1585.5 799.4,1588.8C804.2,1592.1 810.7,1598.3 814.4,1600.8C818.1,1603.3 822,1606.3 826.4,1606.8C830.8,1607.2 838.4,1604.7 844.4,1603.8C850.4,1602.9 859.3,1601.7 865.3,1600.8C871.3,1599.9 878.7,1599.6 883.3,1597.8C887.9,1595.9 891.8,1592.3 895.3,1588.8C898.8,1585.3 902.5,1578.1 907.3,1573.8C912,1569.5 919.5,1565.2 925.2,1561.8C931,1558.5 937.8,1555.2 943.2,1552.9C948.7,1550.5 957.7,1547.6 960,1546.9C962.3,1546.1 967.2,1545.4 967.2,1545.4C967.2,1545.4 967.2,1454 967.2,1454C967.2,1454 434,1454 434,1454C434,1454 434,1684.7 434,1684.7Z"/>
<path fill="#0aaf14" d="M434,1665.2C434,1665.2 438,1664.1 440,1663.7C442,1663.3 460.1,1660.2 470,1657.7C479.8,1655.2 493.6,1651.1 499.9,1648.7C506.2,1646.4 511.9,1642.7 517.9,1639.7C523.9,1636.7 530.7,1633.5 535.9,1630.7C541,1627.9 547.1,1625 550.8,1621.7C554.6,1618.5 556.7,1613.7 559.8,1609.8C562.9,1605.8 566.6,1598.6 571.8,1594.8C577,1591 585.9,1587 592.8,1585.8C599.7,1584.6 607.6,1586.4 613.7,1587.3C619.8,1588.2 625.7,1590.3 631.7,1591.8C637.7,1593.3 643.6,1596 649.7,1596.3C655.7,1596.5 661.7,1594.7 667.6,1593.3C673.6,1591.9 685.6,1588.4 694.6,1585.8C703.6,1583.2 714.7,1580.3 724.6,1576.8C734.4,1573.4 747.5,1567.7 754.5,1564.8C761.5,1561.9 769.6,1558.1 775.5,1555.9C781.4,1553.6 787.3,1551.1 793.5,1549.9C799.7,1548.7 807.4,1548.4 814.4,1548.4C821.4,1548.4 834.4,1549.6 844.4,1549.9C854.4,1550.1 867.2,1550.5 874.3,1549.9C881.4,1549.2 888.3,1546.8 895.3,1545.4C902.3,1544 911.3,1542.4 919.3,1540.9C927.2,1539.4 937.6,1537.6 943.2,1536.4C948.9,1535.1 957.6,1532.5 960,1531.9C962.4,1531.3 967.2,1530.4 967.2,1530.4C967.2,1530.4 967.2,1454 967.2,1454C967.2,1454 434,1454 434,1454C434,1454 434,1665.2 434,1665.2Z"/>
<path fill="#00e6af" d="M434,1621.7C434,1621.7 445.8,1625.7 452,1626.2C458.1,1626.8 472.3,1628.8 481.9,1626.2C491.6,1623.7 511.1,1611.1 514.9,1609.8C518.6,1608.4 526.9,1609.8 526.9,1609.8C526.9,1609.8 524.2,1618.8 520.9,1621.7C517.5,1624.7 505.7,1630.8 499.9,1633.7C494.1,1636.6 488.3,1639.8 481.9,1641.2C475.6,1642.7 465.9,1642.3 458,1643.3C450,1644.3 434,1647.2 434,1647.2C434,1647.2 434,1621.7 434,1621.7Z"/>
<path fill="#00e6af" d="M622.7,1558.8C622.7,1558.8 643.7,1545.2 655.7,1543.9C667.7,1542.5 754.5,1543.9 754.5,1543.9C754.5,1543.9 740.7,1550.7 733.5,1553.5C726.4,1556.2 717.6,1558.4 709.6,1560.9C701.6,1563.4 693.6,1565.9 685.6,1568.4C677.6,1570.9 667.6,1574.2 661.7,1575.9C655.7,1577.6 649.7,1579.9 643.7,1580.4C637.7,1580.9 625.7,1578.9 625.7,1578.9C625.7,1578.9 622.7,1558.8 622.7,1558.8Z"/>
<path fill="#00e6af" d="M784.5,1507.9C784.5,1507.9 805.8,1497 817.4,1495.9C829.1,1494.9 913.3,1495.9 913.3,1495.9C913.3,1495.9 911.3,1498 910.3,1498.9C909.2,1499.9 900,1508.1 895.3,1511.5C890.6,1514.9 885.8,1518.5 880.3,1520.5C874.9,1522.6 866.3,1523.5 859.4,1525C852.4,1526.5 845.4,1528.1 838.4,1529.5C831.4,1530.9 822.5,1533.1 814.4,1534C806.3,1534.9 786,1535.5 786,1535.5C786,1535.5 784.5,1507.9 784.5,1507.9Z"/>
<path fill="#00e6af" d="M907.3,1515.4C907.3,1515.4 913.3,1501.9 913.3,1501.9C913.3,1501.9 931.2,1498.9 931.2,1498.9C931.2,1498.9 931.2,1478 931.2,1478C931.2,1478 946.2,1478 946.2,1478C946.2,1478 946.2,1460 946.2,1460C946.2,1460 967.2,1460 967.2,1460C967.2,1460 967.2,1504.9 967.2,1504.9C967.2,1504.9 962.2,1504.5 960,1505.5C957.8,1506.5 949.5,1515.2 943.2,1516C937,1516.8 931.5,1510.1 925.2,1510C919,1509.9 907.3,1515.4 907.3,1515.4Z"/>
<path fill="#00e6af" d="M889.3,1526.5C889.3,1526.5 897.7,1519 897.7,1519C897.7,1519 905.8,1525.9 905.8,1525.9C905.8,1525.9 897.7,1533.4 897.7,1533.4C897.7,1533.4 889.3,1526.5 889.3,1526.5Z"/>
<path fill="#ffa000" d="M703.6,1708.6C703.6,1708.6 701.4,1683.7 700.6,1675.7C699.8,1667.7 696.6,1659.2 697.6,1651.7C698.6,1644.2 703.2,1637.5 706.6,1630.7C710,1623.9 718.6,1609.8 718.6,1609.8C718.6,1609.8 733.1,1610.8 739.5,1612.8C745.9,1614.7 751.7,1619.3 757.5,1621.7C763.3,1624.2 771.3,1625 775.5,1627.7C779.6,1630.5 783.4,1634.8 784.5,1639.7C785.5,1644.6 781.5,1654.7 781.5,1654.7C781.5,1654.7 789.6,1653.1 793.5,1651.7C797.3,1650.3 805.4,1645.7 805.4,1645.7C805.4,1645.7 818.2,1653.9 823.4,1657.7C828.6,1661.5 834.4,1666.6 838.4,1669.7C842.3,1672.7 850.4,1678.7 850.4,1678.7C850.4,1678.7 858.1,1666.5 862.3,1663.7C866.6,1660.9 872.5,1662.4 877.3,1660.7C882.1,1658.9 889.5,1654.1 895.3,1651.7C901.1,1649.3 909.7,1648.4 913.3,1645.7C916.8,1643 916.3,1637.1 919.3,1633.7C922.2,1630.4 930.4,1624.5 934.2,1621.7C938.1,1619 941.5,1614.8 946.2,1614.3C950.9,1613.7 957.5,1617.9 960,1618.8C962.4,1619.6 967.2,1621.7 967.2,1621.7C967.2,1621.7 967.2,1708.6 967.2,1708.6C967.2,1708.6 703.6,1708.6 703.6,1708.6Z"/>
<path fill="#ffe100" d="M781.5,1708.6C781.5,1708.6 784.8,1692.6 787.5,1687.6C790.2,1682.7 797.3,1677.3 799.4,1675.7C801.6,1674 806.9,1672.7 806.9,1672.7C806.9,1672.7 808.6,1682.6 808.4,1687.6C808.2,1692.7 805.4,1708.6 805.4,1708.6C805.4,1708.6 781.5,1708.6 781.5,1708.6Z"/>
<path fill="#ff3700" d="M937.2,1708.6C937.2,1708.6 937.9,1679.7 938.7,1669.7C939.6,1659.6 942,1643.1 943.2,1639.7C944.5,1636.4 952.2,1633.7 952.2,1633.7C952.2,1633.7 957.8,1638.4 960,1639.7C962.2,1641.1 967.2,1642.7 967.2,1642.7C967.2,1642.7 967.2,1708.6 967.2,1708.6C967.2,1708.6 937.2,1708.6 937.2,1708.6Z"/>
<path fill="#ff3700" d="M880.3,1708.6C880.3,1708.6 880.7,1698 883.3,1693.6C885.9,1689.2 890.7,1685.2 895.3,1683.2C899.9,1681.1 906.7,1681 910.3,1681.7C913.8,1682.3 916.7,1685.1 919.3,1687.6C921.8,1690.2 924,1693.2 925.2,1696.6C926.5,1700 926.7,1708.6 926.7,1708.6C926.7,1708.6 880.3,1708.6 880.3,1708.6Z"/>
</g>
</g></g>
<g filter="url(#bob)" fill="none" stroke="#0a0a0a" stroke-width="1.5" stroke-linejoin="round" stroke-linecap="round">
<path d="M506.7,1600.3 502.1,1610.5 483.9,1615 479.3,1621.8 458.9,1624.1 442.9,1621.8 429.3,1620.7 417.9,1626.4 411.1,1637.7 406.5,1651.3 399.7,1660.4 388.3,1661.6 383.8,1665 374.6,1662.7 363.3,1666.1 358.7,1670.6 348.5,1669.5 346.2,1660.4 342.8,1649.1 338.2,1646.8 324.6,1655.9 315.5,1660.4 304.1,1661.6 292.7,1655.9 288.2,1661.6 295,1665 279.1,1671.8 270,1676.3 260.8,1683.1 247.2,1684.3 235.8,1687.7 229,1699 227.8,1705.8 233.5,1708.1 233.5,1717.2 224.4,1721.7 213.1,1724 206.2,1728.5 208.5,1737.6 215.3,1744.4 222.2,1751.2 227.8,1753.5 224.4,1758.1 219.9,1759.2 219.9,1767.1 223.3,1776.2 229,1781.9 240.4,1784.2 244.9,1777.3 258.6,1775.1 274.5,1778.5 290.4,1785.3 295,1792.1 290.4,1798.9 289.3,1805.7 292.7,1812.5 297.3,1819.4 299.5,1830.7 303,1835.2 297.3,1839.8 295,1844.3 299.5,1848.9 308.6,1853.4 313.2,1856.8 308.6,1862.5 299.5,1863.6 288.2,1868.2 279.1,1864.8 270,1867 267.7,1872.7 272.2,1879.5 281.3,1878.4 288.2,1881.8 295,1886.3 301.8,1882.9 313.2,1881.8 324.6,1885.2 329.1,1894.3 333.7,1898.8 347.3,1897.7 356.4,1903.4 363.3,1912.4 367.8,1921.5 366.7,1930.6 370.1,1932.9 363.3,1939.7 365.5,1944.2 372.4,1946.5 376.9,1955.6 381.5,1959 392.9,1955.6 402,1951 404.2,1957.9 411.1,1963.5 420.2,1969.2 433.8,1973.7 447.5,1978.3 461.1,1981.7 472.5,1982.8 481.6,1980.6 502.1,1980.6 504.4,1982.8 496.4,1991.9 497.5,2001 504.4,2012.3 508.9,2023.7 508.9,2030.5 515.8,2037.3 524.9,2039.6 536.2,2045.3 547.6,2050.9 556.7,2052.1 565.8,2050.9 574,2048.7"/>
<path d="M290.4,1802.3 306.4,1801.2 320,1805.7 326.9,1814.8 333.7,1820.5 347.3,1823.9 356.4,1821.6 358.7,1826.2 354.2,1833 354.2,1838.7 367.8,1835.2 383.8,1833 397.4,1826.2 399.7,1814.8 404.2,1805.7 406.5,1794.4 402,1787.6 390.6,1786.4 388.3,1780.8 379.2,1776.2 370.1,1769.4 361,1760.3 354.2,1753.5 342.8,1753.5 338.2,1746.7 342.8,1739.9 338.2,1737.6 333.7,1735.3 324.6,1735.3 321.2,1726.3 324.6,1714.9 336,1711.5 347.3,1714.9 361,1716 383.8,1714.9 403.1,1713.8 415.6,1703.6 422.4,1699 447.5,1697.9 474.8,1692.2 506.7,1687.7 527.1,1685.4 543.1,1678.6 561.3,1672.9 574,1671.8"/>
<path d="M506.7,1600.3 524.9,1601.4 543.1,1615 552.2,1628.6 545.3,1635.4 534,1637.7 531.7,1649.1 520.3,1655.9 504.4,1665 497.5,1678.6 508.9,1685.4"/>
<path d="M342.8,1739.9 349.6,1735.3 358.7,1734.2 356.4,1739.9 372.4,1738.8 374.6,1746.7 372.4,1751.2 358.7,1751.2 351.9,1746.7 349.6,1742.2Z"/>
<path d="M472.5,1844.3 483.9,1830.7 502.1,1812.5 520.3,1796.6 529.4,1788.7 547.6,1778.5 574,1766"/>
<path d="M472.5,1844.3 474.8,1858 471.4,1869.3 472.5,1878.4 465.7,1885.2 462.3,1894.3 470.2,1901.1 458.9,1912.4 465.7,1917 474.8,1926.1 483.9,1930.6 488.4,1937.4 479.3,1946.5 486.2,1955.6 486.2,1969.2 481.6,1980.6"/>
<path d="M516.9,1835.2 529.4,1830.7 531.7,1842.1 527.1,1844.3 518,1843.2Z"/>
<path d="M539.1,1706.1 547,1712.4 561.1,1710.8 573.7,1706.1 580,1698.3 592.6,1696.7 597.3,1692 592.6,1684.2 580,1682.6 564.3,1687.3 558,1695.1 550.1,1704.6Z"/>
<path d="M661.8,1649.6 680.7,1646.5 707.4,1640.2 724.8,1633.9 743.6,1629.2 746.8,1644.9 751.5,1657.5 731,1660.6 699.6,1663.8 676,1662.2 665,1660.6 668.1,1655.9Z"/>
<path d="M574,2047.5 587.7,2045.3 603.6,2045.3 612.7,2043 617.3,2028.2 621.8,2016.9 628.6,2003.3 640,1996.5 644.6,1985.1 651.4,1982.8 665.1,1986.2 676.4,1988.5 687.8,1989.6 694.6,1985.1 703.7,1988.5 712.9,1987.4 722,1995.3 733.3,1994.2 747,1993 756.1,1987.4 756.1,1980.6 767.5,1976 774.3,1969.2 783.4,1964.7 792.5,1965.8 801.6,1968.1 813,1967.4 816.4,1976 822.1,1982.8 835.8,1985.1 847.1,1987.4 865.3,1987.4 879,1984 892.7,1987.4 906.3,1982.8 913.1,1976 924.5,1972.6 938.2,1966.9 947.3,1963.5 960.9,1961.3 969.1,1962.4"/>
<path d="M574,1671.8 587.7,1672.9 601.3,1676.3 612.7,1683.1 615,1689.9 610.4,1696.7 609.3,1710.4 619.5,1717.2 630.9,1721.7 844.9,1721.7 881.3,1689.9 883.5,1665 887,1619.6 882.4,1596.8"/>
<path d="M844.9,1721.7 842.6,1755.8 842.6,1794.4 860.8,1805.7 872.2,1817.1 879,1833 881.3,1848.9 867.6,1864.8 869.9,1880.7 872.2,1894.3 888.1,1901.1 901.8,1910.2 904,1921.5 920,1930.6 935.9,1939.7 940.4,1953.3 942.7,1964.7"/>
<path d="M574,1766 596.8,1766 602.5,1751.2 605.9,1733.1 609.3,1710.4"/>
<path d="M574,1856.8 583.1,1856.8 583.1,1870.4 574,1870.4Z"/>
<path d="M596.8,1860.2 602.5,1847.7 611.6,1845.5 605.9,1853.4 601.3,1861.4"/>
<path d="M969.1,1962.4 973.2,1965.8 984.6,1969.2 989.2,1963.5 1007.4,1961.3 1016.5,1953.3 1021,1939.7 1027.8,1935.1 1043.8,1932.9 1057.4,1928.3 1064.3,1926.1 1075.6,1927.2 1089.3,1922.7 1100.7,1919.3 1105.2,1923.8 1121.2,1922.7 1143.9,1918.1 1166.7,1914.7 1178.1,1919.3 1187.2,1926.1 1196.3,1923.8"/>
<path d="M1196.3,1923.2 1200.8,1924.9 1212.2,1928.3 1223.6,1931.7 1235,1937.4 1246.3,1941.4 1264.5,1940.8 1269.1,1929.5 1274.8,1930.6 1280.5,1937.4 1291.9,1939.1 1303.2,1938.6 1314.6,1939.7 1319.2,1944.2 1326,1943.1 1336.2,1942 1340.8,1938.6 1338.5,1932.9 1335.7,1924.9 1334,1912.4 1318,1910.2 1314.6,1907.9 1313.5,1898.8 1319.2,1893.1 1330.5,1889.7 1340.8,1885.2 1351,1881.8 1353.3,1878.4 1346.5,1870.4 1340.8,1858 1336.2,1851.1 1326,1848.9 1320.3,1840.9 1312.3,1837.5 1301.5,1835.2 1300.4,1803.5"/>
<path d="M1289.6,1798.9 1303.2,1798.4 1303.2,1803.5 1290.7,1803.5Z"/>
<path d="M1283.9,1787 1294.1,1786.4 1303.2,1780.8 1308.9,1775.1 1337.4,1772.8 1354.4,1769.4 1371.5,1764.9 1387,1760.3"/>
<path d="M1556.1,1596.8 1539,1608.2 1525.4,1619.6 1514,1633.2 1511.7,1645.7 1493.5,1647.9 1470.7,1650.2 1457.1,1653.6 1454.8,1667.2 1448,1683.1 1443.4,1699 1438.9,1714.9 1429.8,1726.3 1419.5,1737.6 1422.9,1751.2 1413.8,1754.6 1391.1,1759.2 1368.3,1766 1345.6,1771.7"/>
<path d="M1311.4,1608.2 1345.6,1610.5 1377.4,1609.3 1388.8,1605.9 1387.7,1596.8"/>
<path d="M1388.8,1605.9 1413.8,1612.7 1448,1617.3 1470.7,1624.1 1493.5,1629.8 1514,1633.2"/>
<path d="M506.7,1600.3 522.6,1596.8 538.5,1590 556.7,1581 574.9,1573 593.1,1569.6 606.8,1567.3 615.9,1560.5 625,1558.2 634.1,1557.1 634.1,1549.2 643.2,1543.5 654.6,1537.8 670.5,1536.7 685.3,1535.5 691,1541.2 697.8,1543.5 699,1540.1 711.5,1538.9 734.2,1535.5 757,1531 779.8,1525.3 795.7,1521.9 788.9,1514 782,1506 791.1,1501.5 807.1,1498.1 825.3,1494.7 843.5,1492.4 856.2,1491.3"/>
<path d="M795.7,1521.9 807.1,1520.8 816.2,1521.9 825.3,1524.2 836.7,1525.3 845.8,1529.9 856.2,1529.9"/>
<path d="M856.2,1491.3 861.7,1487.9 866.3,1485.6 882.2,1487.9 893.6,1486.7 907.2,1487.9 920.9,1484.5 916.3,1478.8 918.6,1474.2 925.4,1472 923.1,1467.4 930,1465.2 934.5,1468.6 943.6,1464 950.5,1459.5 961.8,1462.9 975.5,1464 984.6,1462.9 996,1466.3 1007.4,1468.6 1014.2,1469.7 1021,1475.4 1030.1,1481.1 1039.2,1485.6 1043.8,1489 1057.4,1489 1066.5,1492.4 1075.6,1495.8 1087,1493.5 1093.8,1490.1 1098.4,1485.6 1097.3,1481.1 1100.7,1477.6 1112.1,1478.8 1121.2,1477.6 1134.8,1477.6 1148.5,1474.2 1153,1476.5 1155.3,1483.3 1166.7,1483.3 1173.5,1478.8 1178.1,1474.2 1189.4,1472 1198.5,1469.7 1200.8,1458.3 1207.6,1456.1 1216.7,1458.3 1220.4,1462.9"/>
<path d="M856.2,1529.9 877.6,1527.6 878.8,1537.8 874.2,1544.6 878.8,1556 881,1567.3 876.5,1578.7 878.8,1590 882.4,1596.8"/>
<path d="M1093.8,1490.1 1105.2,1494.7 1110.9,1496.9 1106.4,1501.5 1108,1510.6 1118.9,1512.8 1129.1,1512.2 1136.9,1519.9 1148.9,1525.8 1150.5,1533.5 1139.8,1539.4 1133.7,1545.5 1136.9,1553.3 1147.3,1560.7 1156.4,1569.8 1162.6,1581.9 1161.7,1592.5 1180.3,1594.1 1189.4,1594.6"/>
<path d="M968.7,1570.7 975.5,1565.1 982.3,1567.3 980,1571.9 996,1571.4 997.1,1583.2 989.2,1583.2 989.2,1578.7 970.9,1578.2Z"/>
<path d="M1002.8,1575.3 1016.5,1575.3"/>
<path d="M1220.4,1462.9 1228.1,1468.6 1241.8,1469.7 1257.7,1467.4 1269.1,1464 1280.5,1460.6 1291.9,1464 1314.6,1464 1341.9,1464 1355.6,1459.5 1364.7,1456.1 1367,1451.5 1355.6,1451.5 1367,1447 1364.7,1440.2 1355.6,1433.4 1352.2,1424.3 1353.3,1412.9 1352.2,1403.9 1357.9,1385.7 1362.4,1378.9 1369.2,1374.3 1367,1367.5 1369.2,1363 1382.9,1364.1 1405.6,1365.3 1428.4,1367.5 1451.2,1367.5 1473.9,1369.8 1492.1,1372.1"/>
<path d="M1341.9,1464 1346.5,1472 1351,1481.1 1355.6,1496.9 1360.1,1515.1 1362.4,1533.3 1367,1544.6 1376.1,1553.7 1382.9,1565.1 1386.3,1578.7 1389.7,1594.6 1390.9,1605.9"/>
<path d="M1187.2,1594.6 1212.2,1600.3 1235,1601.4 1257.7,1603.7 1280.5,1605.9 1311.4,1608.2"/>
<path d="M1492.1,1372 1506.6,1376.7 1517.6,1380.7 1533.3,1387.7 1547.5,1397.1 1560.1,1401.9 1569.5,1409.7 1582.1,1412.8 1596.3,1414.4 1618.3,1413.6 1613.6,1420.7 1612.8,1430.1 1623,1431.7 1629.3,1439.5 1634,1452.1 1640.3,1464.6 1646.6,1477.2 1651.3,1483.5 1660.8,1489.7 1671.8,1497.6 1679.6,1505.4 1678.9,1514.8 1667.1,1519.6 1657.6,1524.3 1654.5,1533.7 1659.2,1538.4 1657.6,1541.5 1665.5,1547.8 1661.6,1552.5 1662.3,1560.4 1657.6,1565.1 1643.5,1569.8 1627.7,1574.5 1616.7,1580.8 1608.9,1588.6 1604.1,1583.9 1601,1576.1 1588.4,1579.2 1579,1583.9 1572.7,1590.2 1561.7,1591.7 1556.2,1596.8"/>
</g></g>
<g>
<rect x="172.5" y="1303.3" width="5" height="773" fill="#d8d8d8"/>
<rect x="1714.4" y="1303.3" width="5.2" height="773" fill="#dcdcdc"/>
<rect x="148" y="1430.9" width="27" height="2.4" fill="#c4c4c4"/>
<rect x="148" y="1559.5" width="27" height="2.4" fill="#c4c4c4"/>
<rect x="148" y="1688.1" width="27" height="2.4" fill="#c4c4c4"/>
<rect x="148" y="1816.7" width="27" height="2.4" fill="#c4c4c4"/>
<rect x="148" y="1945.3" width="27" height="2.4" fill="#c4c4c4"/>
<rect x="302.1" y="2076.3" width="1.8" height="27" fill="#b4b4b4"/>
<rect x="623.6" y="2076.3" width="1.8" height="27" fill="#b4b4b4"/>
<rect x="945.1" y="2076.3" width="1.8" height="27" fill="#b4b4b4"/>
<rect x="1266.6" y="2076.3" width="1.8" height="27" fill="#b4b4b4"/>
<rect x="1588.1" y="2076.3" width="1.8" height="27" fill="#b4b4b4"/>
<rect x="148" y="1302" width="1571.6" height="2.6" fill="#b0b0b0"/>
<rect x="148" y="2075" width="1570.6" height="2.7" fill="#969696"/>
</g>
<g fill="#161616" font-size="38">
<text x="124" y="1318.5" text-anchor="end">46°N</text>
<text x="124" y="1447.1" text-anchor="end">44°N</text>
<text x="124" y="1575.7" text-anchor="end">42°N</text>
<text x="124" y="1704.3" text-anchor="end">40°N</text>
<text x="124" y="1832.9" text-anchor="end">38°N</text>
<text x="124" y="1961.5" text-anchor="end">36°N</text>
<text x="124" y="2090.1" text-anchor="end">34°N</text>
<text x="303" y="2156.6" text-anchor="middle">75°E</text>
<text x="624.5" y="2156.6" text-anchor="middle">80°E</text>
<text x="946" y="2156.6" text-anchor="middle">85°E</text>
<text x="1267.5" y="2156.6" text-anchor="middle">90°E</text>
<text x="1589" y="2156.6" text-anchor="middle">95°E</text>
<text x="946.5" y="2211" font-size="40.2" text-anchor="middle" textLength="382" lengthAdjust="spacingAndGlyphs">Average R95RAT (%)</text>
<text x="411.3" y="2301.5" font-size="40.2" text-anchor="middle">0.1</text>
<text x="545.1" y="2301.5" font-size="40.2" text-anchor="middle">0.15</text>
<text x="678.8" y="2301.5" font-size="40.2" text-anchor="middle">0.2</text>
<text x="812.6" y="2301.5" font-size="40.2" text-anchor="middle">0.25</text>
<text x="946.3" y="2301.5" font-size="40.2" text-anchor="middle">0.3</text>
<text x="1080" y="2301.5" font-size="40.2" text-anchor="middle">0.35</text>
<text x="1213.8" y="2301.5" font-size="40.2" text-anchor="middle">0.4</text>
<text x="1347.5" y="2301.5" font-size="40.2" text-anchor="middle">0.45</text>
<text x="1481.3" y="2301.5" font-size="40.2" text-anchor="middle">0.5</text>
<text x="262.5" y="1358" font-family="'Liberation Serif', serif" font-size="36">(e)</text>
</g>
<g shape-rendering="crispEdges">
<rect x="277.6" y="2228.5" width="134.2" height="33.8" fill="#0000f5"/>
<rect x="411.3" y="2228.5" width="134.2" height="33.8" fill="#00a5fa"/>
<rect x="545.1" y="2228.5" width="134.2" height="33.8" fill="#00e6af"/>
<rect x="678.8" y="2228.5" width="134.2" height="33.8" fill="#0aaf14"/>
<rect x="812.6" y="2228.5" width="134.2" height="33.8" fill="#a5e10f"/>
<rect x="946.3" y="2228.5" width="134.2" height="33.8" fill="#ffe100"/>
<rect x="1080" y="2228.5" width="134.2" height="33.8" fill="#ffa000"/>
<rect x="1213.8" y="2228.5" width="134.2" height="33.8" fill="#ff3700"/>
<rect x="1347.5" y="2228.5" width="134.2" height="33.8" fill="#c30028"/>
<rect x="1481.3" y="2228.5" width="133.7" height="33.8" fill="#550087"/>
</g>
</svg></body></html>
